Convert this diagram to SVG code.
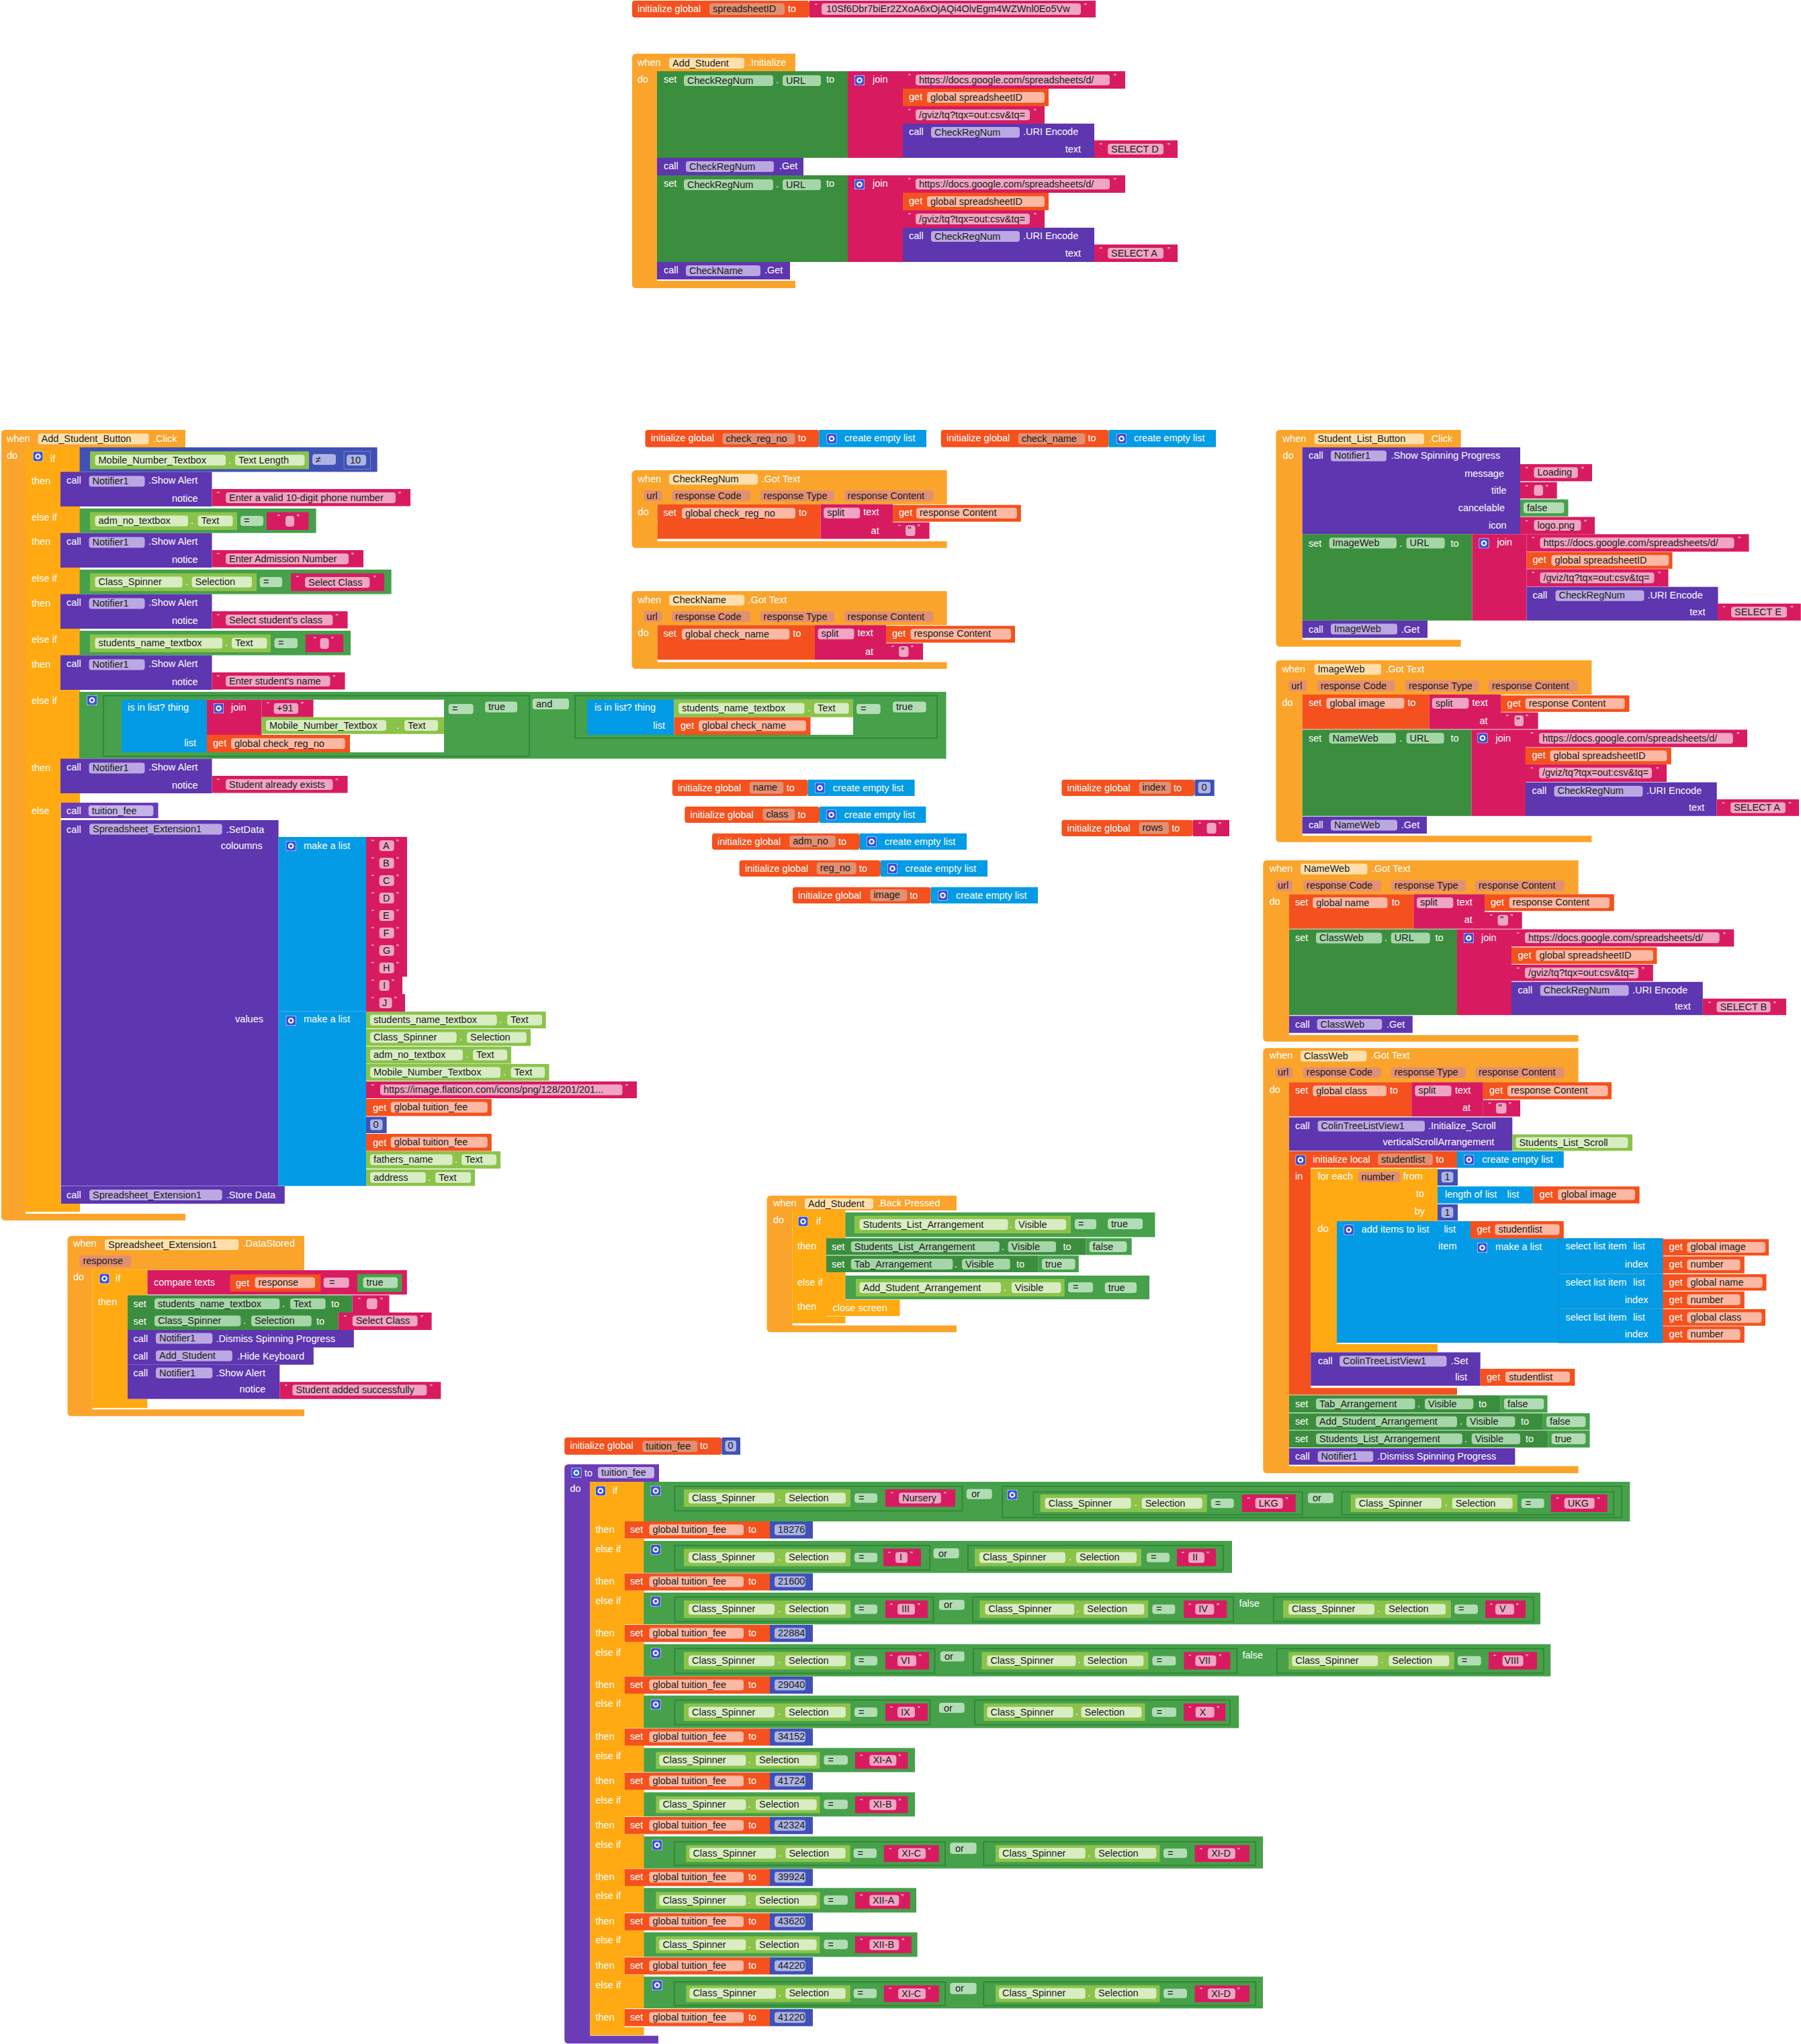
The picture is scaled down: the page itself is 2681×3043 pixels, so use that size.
<svg xmlns="http://www.w3.org/2000/svg" width="2681" height="3043" viewBox="0 0 2681 3043">
<defs>
<style>
text{font-family:"Liberation Sans",Arial,sans-serif;font-size:14.5px;fill:#fff}
.k{fill:#1a1a1a}
.e{text-anchor:end}
.q{font-size:11px}
.ev{fill:#FBA42C}.ct{fill:#FFAA12}.pu{fill:#5D36B0}.sg{fill:#3B8E3E}.lg{fill:#8BC34A}.lo{fill:#46A14A}.ls{fill:#46A14A;stroke:#2F7F33;stroke-width:1.5}
.tx{fill:#D81B60}.va{fill:#F4511E}.li{fill:#039BE5}.ma{fill:#3F51B5}.pr{fill:#6A3CB5}.wh{fill:#fff}
.fe,.fp,.fs,.fl,.fo,.ft,.fv,.fr,.fm,.fq{rx:4px}
.fe{fill:#FFE0AC}.fp{fill:#BBA8E2}.fs{fill:#A5D6A7}.fl{fill:#D8EDC2}.fo{fill:#B2DDB4}.ft{fill:#F2A5C3}.fv{fill:#FCB8A2}.fr{fill:#E29073}.fm{fill:#ADB4E3}.fq{fill:#C6B3E8}
</style>
<symbol id="g" viewBox="0 0 16 16"><rect width="16" height="16" rx="3" fill="#3D50D8" stroke="#fff" stroke-width="1"/><circle cx="8" cy="8" r="3.5" fill="none" stroke="#fff" stroke-width="2.2"/></symbol>
</defs>
<rect width="2681" height="3043" fill="#fff"/>
<g id="connectors"></g>

<g id="init-spreadsheetID">
<rect class="va" x="941" y="1" width="264" height="25" rx="4"/>
<text x="949" y="18">initialize global</text>
<rect class="fr" x="1056" y="5" width="112" height="17"/>
<text class="k" x="1061" y="18">spreadsheetID</text>
<text x="1173" y="18">to</text>
<rect class="tx" x="1205" y="1" width="426" height="25"/>
<text class="q" x="1213" y="13">“</text>
<rect class="ft" x="1223" y="5" width="386" height="17"/>
<text class="k" x="1230" y="18">10Sf6Dbr7biEr2ZXoA6xOjAQi4OlvEgm4WZWnl0Eo5Vw</text>
<text class="q" x="1614" y="13">”</text>
</g>

<g id="add-student-initialize">
<path class="ev" d="M941,86q0,-6 6,-6H1184V106H978V418H1184V429H947q-6,0 -6,-6Z"/>
<text x="949" y="98">when</text>
<rect class="fe" x="996" y="86" width="112" height="16"/>
<text class="k" x="1001" y="98.5">Add_Student</text>
<text x="1114" y="98">.Initialize</text>
<text x="949" y="123">do</text>
<rect class="sg" x="978" y="106" width="284" height="129"/>
<text x="988" y="123">set</text>
<rect class="fs" x="1018" y="112" width="133" height="16"/>
<text class="k" x="1023" y="124.5">CheckRegNum</text>
<text x="1155" y="124">.</text>
<rect class="fs" x="1165" y="112" width="57" height="16"/>
<text class="k" x="1170" y="124.5">URL</text>
<text x="1230" y="123">to</text>
<g transform="translate(1262,106)">
<rect class="tx" width="82" height="129"/>
<use href="#g" x="10" y="6" width="15" height="15"/>
<text x="37" y="17">join</text>
<rect class="tx" x="82" width="331" height="26"/>
<text class="q" x="90" y="12">“</text>
<rect class="ft" x="101" y="5" width="289" height="16"/>
<text class="k" x="106" y="17.5">https://docs.google.com/spreadsheets/d/</text>
<text class="q" x="396" y="12">”</text>
<rect class="va" x="82" y="26" width="217" height="26"/>
<text x="91" y="43">get</text>
<rect class="fv" x="118" y="31" width="175" height="16"/>
<text class="k" x="123" y="43.5">global spreadsheetID</text>
<rect class="tx" x="82" y="52" width="211" height="26"/>
<text class="q" x="90" y="64">“</text>
<rect class="ft" x="101" y="57" width="170" height="16"/>
<text class="k" x="106" y="69.5">/gviz/tq?tqx=out:csv&amp;tq=</text>
<text class="q" x="277" y="64">”</text>
<rect class="pu" x="82" y="78" width="285" height="51"/>
<text x="91" y="95">call</text>
<rect class="fp" x="124" y="83" width="132" height="16"/>
<text class="k" x="129" y="95.5">CheckRegNum</text>
<text x="261" y="95">.URI Encode</text>
<text class="e" x="347" y="121">text</text>
<rect class="tx" x="367" y="103" width="124" height="26"/>
<text class="q" x="375" y="115">“</text>
<rect class="ft" x="387" y="108" width="83" height="16"/>
<text class="k" x="392" y="120.5">SELECT D</text>
<text class="q" x="476" y="115">”</text>
</g>
<rect class="pu" x="978" y="235" width="218" height="26"/>
<text x="988" y="252">call</text>
<rect class="fp" x="1021" y="240" width="131" height="16"/>
<text class="k" x="1026" y="252.5">CheckRegNum</text>
<text x="1160" y="252">.Get</text>
<rect class="sg" x="978" y="261" width="284" height="129"/>
<text x="988" y="278">set</text>
<rect class="fs" x="1018" y="267" width="133" height="16"/>
<text class="k" x="1023" y="279.5">CheckRegNum</text>
<text x="1155" y="279">.</text>
<rect class="fs" x="1165" y="267" width="57" height="16"/>
<text class="k" x="1170" y="279.5">URL</text>
<text x="1230" y="278">to</text>
<g transform="translate(1262,261)">
<rect class="tx" width="82" height="129"/>
<use href="#g" x="10" y="6" width="15" height="15"/>
<text x="37" y="17">join</text>
<rect class="tx" x="82" width="331" height="26"/>
<text class="q" x="90" y="12">“</text>
<rect class="ft" x="101" y="5" width="289" height="16"/>
<text class="k" x="106" y="17.5">https://docs.google.com/spreadsheets/d/</text>
<text class="q" x="396" y="12">”</text>
<rect class="va" x="82" y="26" width="217" height="26"/>
<text x="91" y="43">get</text>
<rect class="fv" x="118" y="31" width="175" height="16"/>
<text class="k" x="123" y="43.5">global spreadsheetID</text>
<rect class="tx" x="82" y="52" width="211" height="26"/>
<text class="q" x="90" y="64">“</text>
<rect class="ft" x="101" y="57" width="170" height="16"/>
<text class="k" x="106" y="69.5">/gviz/tq?tqx=out:csv&amp;tq=</text>
<text class="q" x="277" y="64">”</text>
<rect class="pu" x="82" y="78" width="285" height="51"/>
<text x="91" y="95">call</text>
<rect class="fp" x="124" y="83" width="132" height="16"/>
<text class="k" x="129" y="95.5">CheckRegNum</text>
<text x="261" y="95">.URI Encode</text>
<text class="e" x="347" y="121">text</text>
<rect class="tx" x="367" y="103" width="124" height="26"/>
<text class="q" x="375" y="115">“</text>
<rect class="ft" x="387" y="108" width="83" height="16"/>
<text class="k" x="392" y="120.5">SELECT A</text>
<text class="q" x="476" y="115">”</text>
</g>
<rect class="pu" x="978" y="390" width="198" height="26"/>
<text x="988" y="407">call</text>
<rect class="fp" x="1021" y="395" width="111" height="16"/>
<text class="k" x="1026" y="407.5">CheckName</text>
<text x="1138" y="407">.Get</text>
</g>

<g id="add-student-button-click">
<path class="ev" d="M2,646q0,-6 6,-6H276V666H38V1807H276V1817H8q-6,0 -6,-6Z"/>
<text x="10" y="658">when</text>
<rect class="fe" x="56.5" y="645.5" width="165" height="16"/>
<text class="k" x="61.5" y="658">Add_Student_Button</text>
<text x="228" y="658">.Click</text>
<text x="10" y="683">do</text>
<rect class="ct" x="38" y="666" width="52" height="1138"/>
<rect class="ct" x="90" y="666" width="29" height="37"/>
<rect class="ct" x="90" y="754" width="29" height="40"/>
<rect class="ct" x="90" y="845" width="29" height="40"/>
<rect class="ct" x="90" y="936" width="29" height="40"/>
<rect class="ct" x="90" y="1027" width="29" height="103"/>
<rect class="ct" x="90" y="1181" width="29" height="14"/>
<rect class="ct" x="38" y="1792" width="81" height="12"/>
<use href="#g" x="49" y="672" width="15" height="15"/>
<text x="75" y="688">if</text>
<text x="47" y="721">then</text>
<text x="47" y="775">else if</text>
<text x="47" y="811">then</text>
<text x="47" y="866">else if</text>
<text x="47" y="903">then</text>
<text x="47" y="957">else if</text>
<text x="47" y="994">then</text>
<text x="47" y="1048">else if</text>
<text x="47" y="1148">then</text>
<text x="47" y="1212">else</text>
<rect class="ma" x="118.6" y="666" width="443" height="36.5"/>
<rect class="lg" x="134" y="672" width="326" height="26.5"/>
<rect class="fl" x="141.5" y="677" width="194.5" height="16"/>
<text class="k" x="146.5" y="689.5">Mobile_Number_Textbox</text>
<text x="340" y="690">.</text>
<rect class="fl" x="350" y="677" width="103.5" height="16"/>
<text class="k" x="355" y="689.5">Text Length</text>
<rect class="fm" x="465" y="676" width="35" height="16"/>
<text class="k" x="470" y="689">≠</text>
<rect class="ma" x="512" y="672" width="39.6" height="26.5" stroke="#7986CB"/>
<rect class="fm" x="516" y="677" width="29" height="16"/>
<text class="k" x="521" y="689.5">10</text>
<rect class="lo" x="118.6" y="757" width="352" height="36.5"/>
<rect class="lg" x="134" y="762.5" width="219" height="26.5"/>
<rect class="fl" x="141.5" y="767.5" width="138.5" height="16"/>
<text class="k" x="146.5" y="780">adm_no_textbox</text>
<text x="284" y="780">.</text>
<rect class="fl" x="294.6" y="767.5" width="52" height="16"/>
<text class="k" x="299.6" y="780">Text</text>
<rect class="fo" x="358" y="768" width="34" height="15"/>
<text class="k" x="363" y="780">=</text>
<rect class="tx" x="397" y="762.5" width="62.5" height="26.5"/>
<text class="q" x="413" y="774">“</text>
<rect class="ft" x="425" y="768" width="13" height="16"/>
<text class="q" x="442" y="774">”</text>
<rect class="lo" x="118.6" y="848" width="464" height="36.5"/>
<rect class="lg" x="134" y="853.5" width="248" height="26.5"/>
<rect class="fl" x="141.5" y="858.5" width="130" height="16"/>
<text class="k" x="146.5" y="871">Class_Spinner</text>
<text x="276" y="871">.</text>
<rect class="fl" x="285.5" y="858.5" width="89.5" height="16"/>
<text class="k" x="290.5" y="871">Selection</text>
<rect class="fo" x="386.7" y="859" width="33.5" height="15"/>
<text class="k" x="392" y="871">=</text>
<rect class="tx" x="433" y="853.5" width="139" height="26.5"/>
<text class="q" x="441" y="865">“</text>
<rect class="ft" x="454" y="859" width="96.4" height="16"/>
<text class="k" x="459" y="871.5">Select Class</text>
<text class="q" x="556" y="865">”</text>
<rect class="lo" x="118.6" y="939" width="403.4" height="36.5"/>
<rect class="lg" x="134" y="944.5" width="269" height="26.5"/>
<rect class="fl" x="141.5" y="949.5" width="189.5" height="16"/>
<text class="k" x="146.5" y="962">students_name_textbox</text>
<text x="335" y="962">.</text>
<rect class="fl" x="345" y="949.5" width="52.4" height="16"/>
<text class="k" x="350" y="962">Text</text>
<rect class="fo" x="408.5" y="950" width="34.5" height="15"/>
<text class="k" x="414" y="962">=</text>
<rect class="tx" x="454.7" y="944.5" width="56.3" height="26.5"/>
<text class="q" x="467" y="956">“</text>
<rect class="ft" x="476.5" y="950" width="13" height="16"/>
<text class="q" x="493" y="956">”</text>
<rect class="lo" x="118" y="1030" width="1290.5" height="99.5"/>
<use href="#g" x="129.5" y="1035" width="15" height="15"/>
<rect class="ls" x="154" y="1035.7" width="634" height="90.3"/>
<rect class="li" x="181" y="1041.7" width="127" height="78.3"/>
<text x="190" y="1058">is in list? thing</text>
<text class="e" x="292" y="1111">list</text>
<rect class="wh" x="308" y="1041.7" width="353" height="78.3"/>
<rect class="tx" x="308" y="1041.7" width="81.5" height="52.3"/>
<use href="#g" x="318" y="1047" width="15" height="15"/>
<text x="344" y="1058">join</text>
<rect class="tx" x="389.5" y="1041.7" width="77" height="26"/>
<text class="q" x="397" y="1053">“</text>
<rect class="ft" x="407.6" y="1046.7" width="36.4" height="16"/>
<text class="k" x="412" y="1059">+91</text>
<text class="q" x="448" y="1053">”</text>
<rect class="lg" x="389.5" y="1067.7" width="271.5" height="25"/>
<rect class="fl" x="396" y="1072" width="179" height="16"/>
<text class="k" x="401" y="1084.5">Mobile_Number_Textbox</text>
<text x="590" y="1084.5">.</text>
<rect class="fl" x="602" y="1072" width="50" height="16"/>
<text class="k" x="607" y="1084.5">Text</text>
<rect class="va" x="308" y="1094" width="213" height="26"/>
<text x="317" y="1111">get</text>
<rect class="fv" x="344" y="1099" width="169.6" height="16"/>
<text class="k" x="349" y="1111.5">global check_reg_no</text>
<rect class="fo" x="667.6" y="1048" width="37" height="15"/>
<text class="k" x="673" y="1060">=</text>
<rect class="lo" x="713.8" y="1041.7" width="63" height="21.5"/>
<rect class="fo" x="722" y="1044.5" width="48" height="16"/>
<text class="k" x="727" y="1057">true</text>
<rect class="fo" x="792.6" y="1040" width="54.4" height="16"/>
<text class="k" x="798" y="1052.5">and</text>
<rect class="ls" x="856" y="1035.7" width="539" height="63.3"/>
<rect class="li" x="874" y="1041.7" width="129.6" height="52.3"/>
<text x="885" y="1058">is in list? thing</text>
<text class="e" x="990" y="1085">list</text>
<rect class="wh" x="1003.6" y="1041.7" width="266.4" height="52.3"/>
<rect class="lg" x="1003.6" y="1041.7" width="266.4" height="26"/>
<rect class="fl" x="1010" y="1046.5" width="187.5" height="16"/>
<text class="k" x="1015" y="1059">students_name_textbox</text>
<text x="1202" y="1059">.</text>
<rect class="fl" x="1212" y="1046.5" width="51.6" height="16"/>
<text class="k" x="1217" y="1059">Text</text>
<rect class="va" x="1003.6" y="1067.7" width="203" height="26.3"/>
<text x="1013" y="1085">get</text>
<rect class="fv" x="1040" y="1072.5" width="160" height="16"/>
<text class="k" x="1045" y="1085">global check_name</text>
<rect class="fo" x="1275" y="1048" width="35.7" height="15"/>
<text class="k" x="1281" y="1060">=</text>
<rect class="lo" x="1320.7" y="1041.7" width="65.3" height="21.5"/>
<rect class="fo" x="1329" y="1044.5" width="49.6" height="16"/>
<text class="k" x="1334" y="1057">true</text>
<g transform="translate(90,702.5)">
<rect class="pu" width="225.5" height="51.5"/>
<text x="9" y="17.5">call</text>
<rect class="fp" x="42.5" y="6" width="83" height="16"/>
<text class="k" x="47.5" y="18.5">Notifier1</text>
<text x="131" y="17.5">.Show Alert</text>
<text class="e" x="204.6" y="44">notice</text>
<rect class="tx" x="225.5" y="25.5" width="295.5" height="25.5"/>
<text class="q" x="233" y="37.5">“</text>
<rect class="ft" x="246" y="30.5" width="253" height="16"/>
<text class="k" x="251" y="43">Enter a valid 10-digit phone number</text>
<text class="q" x="503" y="37.5">”</text>
</g>
<g transform="translate(90,793.5)">
<rect class="pu" width="225.5" height="51.5"/>
<text x="9" y="17.5">call</text>
<rect class="fp" x="42.5" y="6" width="83" height="16"/>
<text class="k" x="47.5" y="18.5">Notifier1</text>
<text x="131" y="17.5">.Show Alert</text>
<text class="e" x="204.6" y="44">notice</text>
<rect class="tx" x="225.5" y="25.5" width="225.5" height="25.5"/>
<text class="q" x="233" y="37.5">“</text>
<rect class="ft" x="246" y="30.5" width="183" height="16"/>
<text class="k" x="251" y="43">Enter Admission Number</text>
<text class="q" x="433" y="37.5">”</text>
</g>
<g transform="translate(90,884.5)">
<rect class="pu" width="225.5" height="51.5"/>
<text x="9" y="17.5">call</text>
<rect class="fp" x="42.5" y="6" width="83" height="16"/>
<text class="k" x="47.5" y="18.5">Notifier1</text>
<text x="131" y="17.5">.Show Alert</text>
<text class="e" x="204.6" y="44">notice</text>
<rect class="tx" x="225.5" y="25.5" width="202" height="25.5"/>
<text class="q" x="233" y="37.5">“</text>
<rect class="ft" x="246" y="30.5" width="159.4" height="16"/>
<text class="k" x="251" y="43">Select student's class</text>
<text class="q" x="409.4" y="37.5">”</text>
</g>
<g transform="translate(90,975.5)">
<rect class="pu" width="225.5" height="51.5"/>
<text x="9" y="17.5">call</text>
<rect class="fp" x="42.5" y="6" width="83" height="16"/>
<text class="k" x="47.5" y="18.5">Notifier1</text>
<text x="131" y="17.5">.Show Alert</text>
<text class="e" x="204.6" y="44">notice</text>
<rect class="tx" x="225.5" y="25.5" width="198" height="25.5"/>
<text class="q" x="233" y="37.5">“</text>
<rect class="ft" x="246" y="30.5" width="155.5" height="16"/>
<text class="k" x="251" y="43">Enter student's name</text>
<text class="q" x="405.5" y="37.5">”</text>
</g>
<g transform="translate(90,1129.5)">
<rect class="pu" width="225.5" height="51.5"/>
<text x="9" y="17.5">call</text>
<rect class="fp" x="42.5" y="6" width="83" height="16"/>
<text class="k" x="47.5" y="18.5">Notifier1</text>
<text x="131" y="17.5">.Show Alert</text>
<text class="e" x="204.6" y="44">notice</text>
<rect class="tx" x="225.5" y="25.5" width="202" height="25.5"/>
<text class="q" x="233" y="37.5">“</text>
<rect class="ft" x="246" y="30.5" width="159.4" height="16"/>
<text class="k" x="251" y="43">Student already exists</text>
<text class="q" x="409.4" y="37.5">”</text>
</g>
<rect class="pr" x="90.5" y="1195" width="145" height="23"/>
<text x="99" y="1212">call</text>
<rect class="fq" x="131.7" y="1199" width="96.7" height="16"/>
<text class="k" x="136.7" y="1211.5">tuition_fee</text>
<rect class="pu" x="90.6" y="1221" width="324" height="544.6"/>
<text x="99" y="1239.5">call</text>
<rect class="fp" x="133" y="1226.5" width="197.7" height="16"/>
<text class="k" x="138" y="1239">Spreadsheet_Extension1</text>
<text x="336.8" y="1239.5">.SetData</text>
<text class="e" x="390.7" y="1264">coloumns</text>
<text class="e" x="392" y="1522">values</text>
<rect class="li" x="414.6" y="1246" width="130.4" height="259.6"/>
<use href="#g" x="425.6" y="1252" width="15" height="15"/>
<text x="452" y="1264">make a list</text>
<g transform="translate(545,1246)"><rect class="tx" width="61" height="26"/><text class="q" x="8" y="12">“</text><rect class="ft" x="19.6" y="5" width="22" height="16"/><text class="k" x="25" y="17.5">A</text><text class="q" x="45" y="12">”</text></g>
<g transform="translate(545,1272)"><rect class="tx" width="61" height="26"/><text class="q" x="8" y="12">“</text><rect class="ft" x="19.6" y="5" width="22" height="16"/><text class="k" x="25" y="17.5">B</text><text class="q" x="45" y="12">”</text></g>
<g transform="translate(545,1298)"><rect class="tx" width="61" height="26"/><text class="q" x="8" y="12">“</text><rect class="ft" x="19.6" y="5" width="22" height="16"/><text class="k" x="25" y="17.5">C</text><text class="q" x="45" y="12">”</text></g>
<g transform="translate(545,1324)"><rect class="tx" width="61" height="26"/><text class="q" x="8" y="12">“</text><rect class="ft" x="19.6" y="5" width="22" height="16"/><text class="k" x="25" y="17.5">D</text><text class="q" x="45" y="12">”</text></g>
<g transform="translate(545,1350)"><rect class="tx" width="61" height="26"/><text class="q" x="8" y="12">“</text><rect class="ft" x="19.6" y="5" width="22" height="16"/><text class="k" x="25" y="17.5">E</text><text class="q" x="45" y="12">”</text></g>
<g transform="translate(545,1376)"><rect class="tx" width="61" height="26"/><text class="q" x="8" y="12">“</text><rect class="ft" x="19.6" y="5" width="22" height="16"/><text class="k" x="25.5" y="17.5">F</text><text class="q" x="45" y="12">”</text></g>
<g transform="translate(545,1402)"><rect class="tx" width="61" height="26"/><text class="q" x="8" y="12">“</text><rect class="ft" x="19.6" y="5" width="22" height="16"/><text class="k" x="25" y="17.5">G</text><text class="q" x="45" y="12">”</text></g>
<g transform="translate(545,1428)"><rect class="tx" width="61" height="26"/><text class="q" x="8" y="12">“</text><rect class="ft" x="19.6" y="5" width="22" height="16"/><text class="k" x="25" y="17.5">H</text><text class="q" x="45" y="12">”</text></g>
<g transform="translate(545,1454)"><rect class="tx" width="54" height="26"/><text class="q" x="8" y="12">“</text><rect class="ft" x="19.6" y="5" width="15" height="16"/><text class="k" x="25" y="17.5">I</text><text class="q" x="38" y="12">”</text></g>
<g transform="translate(545,1480)"><rect class="tx" width="58" height="26"/><text class="q" x="8" y="12">“</text><rect class="ft" x="19.6" y="5" width="19" height="16"/><text class="k" x="24" y="17.5">J</text><text class="q" x="42" y="12">”</text></g>
<rect class="li" x="414.6" y="1505.6" width="130.4" height="260"/>
<use href="#g" x="425.6" y="1512" width="15" height="15"/>
<text x="452" y="1522">make a list</text>
<rect class="lg" x="545" y="1506" width="267.6" height="25"/>
<rect class="fl" x="551" y="1510.5" width="188.7" height="16"/>
<text class="k" x="556" y="1523">students_name_textbox</text>
<text x="743" y="1523">.</text>
<rect class="fl" x="755" y="1510.5" width="52" height="16"/>
<text class="k" x="760" y="1523">Text</text>
<rect class="lg" x="545" y="1532" width="245" height="25"/>
<rect class="fl" x="551" y="1536.5" width="128.7" height="16"/>
<text class="k" x="556" y="1549">Class_Spinner</text>
<text x="684" y="1549">.</text>
<rect class="fl" x="695" y="1536.5" width="88.8" height="16"/>
<text class="k" x="700" y="1549">Selection</text>
<rect class="lg" x="545" y="1558" width="216" height="25.5"/>
<rect class="fl" x="551" y="1562.5" width="138" height="16"/>
<text class="k" x="556" y="1575">adm_no_textbox</text>
<text x="693" y="1575">.</text>
<rect class="fl" x="704" y="1562.5" width="51" height="16"/>
<text class="k" x="709" y="1575">Text</text>
<rect class="lg" x="545" y="1584" width="272.5" height="25"/>
<rect class="fl" x="551" y="1588.5" width="194" height="16"/>
<text class="k" x="556" y="1601">Mobile_Number_Textbox</text>
<text x="749" y="1601">.</text>
<rect class="fl" x="760.6" y="1588.5" width="50.4" height="16"/>
<text class="k" x="765.6" y="1601">Text</text>
<rect class="tx" x="545" y="1610" width="403" height="25"/>
<text class="q" x="553" y="1622">“</text>
<rect class="ft" x="566" y="1614.5" width="360.5" height="16"/>
<text class="k" x="571" y="1627">https://image.flaticon.com/icons/png/128/201/201...</text>
<text class="q" x="931" y="1622">”</text>
<rect class="va" x="545" y="1636" width="186.8" height="25.5"/>
<text x="555" y="1653.5">get</text>
<rect class="fv" x="581.7" y="1640.5" width="144" height="16"/>
<text class="k" x="586.7" y="1653">global tuition_fee</text>
<rect class="ma" x="545" y="1662.6" width="30.6" height="24.4"/>
<rect class="fm" x="551" y="1666.5" width="18.5" height="16"/>
<text class="k" x="555.5" y="1679">0</text>
<rect class="va" x="545" y="1688" width="186.8" height="25.5"/>
<text x="555" y="1705.5">get</text>
<rect class="fv" x="581.7" y="1692.5" width="144" height="16"/>
<text class="k" x="586.7" y="1705">global tuition_fee</text>
<rect class="lg" x="545" y="1714" width="200" height="25.7"/>
<rect class="fl" x="551" y="1718.5" width="122.6" height="16"/>
<text class="k" x="556" y="1731">fathers_name</text>
<text x="677" y="1731">.</text>
<rect class="fl" x="687" y="1718.5" width="52" height="16"/>
<text class="k" x="692" y="1731">Text</text>
<rect class="lg" x="545" y="1741" width="162" height="24.6"/>
<rect class="fl" x="551" y="1745" width="82.8" height="16"/>
<text class="k" x="556" y="1757.5">address</text>
<text x="637" y="1757.5">.</text>
<rect class="fl" x="648" y="1745" width="53" height="16"/>
<text class="k" x="653" y="1757.5">Text</text>
<rect class="pu" x="90.6" y="1766" width="333.2" height="26"/>
<text x="99" y="1783.5">call</text>
<rect class="fp" x="133" y="1771" width="197.7" height="16"/>
<text class="k" x="138" y="1783.5">Spreadsheet_Extension1</text>
<text x="336.8" y="1783.5">.Store Data</text>
</g>

<g id="init-check-lists">
<rect class="va" x="960.5" y="640" width="259" height="25.7" rx="4"/>
<text x="969" y="657">initialize global</text>
<rect class="fr" x="1075.5" y="645" width="108" height="16.5"/>
<text class="k" x="1080.5" y="657.5">check_reg_no</text>
<text x="1188" y="657">to</text>
<rect class="li" x="1219.3" y="640" width="159.7" height="25.7"/>
<use href="#g" x="1230.5" y="645.5" width="15" height="15"/>
<text x="1257" y="657">create empty list</text>
<rect class="va" x="1400.7" y="640" width="250" height="25.7" rx="4"/>
<text x="1409" y="657">initialize global</text>
<rect class="fr" x="1515.7" y="645" width="99.7" height="16.5"/>
<text class="k" x="1520.7" y="657.5">check_name</text>
<text x="1619.5" y="657">to</text>
<rect class="li" x="1650.6" y="640" width="159.4" height="25.7"/>
<use href="#g" x="1662" y="645.5" width="15" height="15"/>
<text x="1688" y="657">create empty list</text>
</g>

<g id="checkregnum-gottext">
<path class="ev" d="M940.6,706q0,-6 6,-6H1409.6V750.7H978.7V805.7H1409.6V815.7H946.6q-6,0 -6,-6Z"/>
<g transform="translate(940.6,700)">
<text x="9" y="17.5">when</text>
<rect class="fe" x="55.6" y="5.5" width="132" height="16"/>
<text class="k" x="60.6" y="18">CheckRegNum</text>
<text x="193" y="17.5">.Got Text</text>
<rect class="fr" x="18" y="30" width="27" height="16"/><text class="k" x="22" y="42.5">url</text>
<rect class="fr" x="59.5" y="30" width="117" height="16"/><text class="k" x="64.5" y="42.5">response Code</text>
<rect class="fr" x="191" y="30" width="110.5" height="16"/><text class="k" x="196" y="42.5">response Type</text>
<rect class="fr" x="316" y="30" width="133" height="16"/><text class="k" x="321" y="42.5">response Content</text>
<text x="9" y="67">do</text>
</g>
<rect class="va" x="978.7" y="750.7" width="243" height="51.5"/>
<text x="987.5" y="767.5">set</text>
<rect class="fv" x="1015" y="756" width="169" height="16"/>
<text class="k" x="1020" y="768.5">global check_reg_no</text>
<text x="1189" y="767.5">to</text>
<g transform="translate(1221.7,750.7)">
<rect class="tx" width="107.3" height="51.5"/>
<rect class="ft" x="4.5" y="5" width="54" height="16"/>
<text class="k" x="9.5" y="17.8">split</text>
<text x="63.5" y="16.8">text</text>
<text class="e" x="87" y="44.3">at</text>
<rect class="va" x="107.3" y="1" width="190.8" height="25"/>
<text x="116.3" y="17.8">get</text>
<rect class="fv" x="142.3" y="5.3" width="150" height="16"/>
<text class="k" x="147.3" y="17.8">response Content</text>
<rect class="tx" x="107.3" y="27" width="54.6" height="24.5"/>
<text class="q" x="115.3" y="38.3">“</text>
<rect class="ft" x="126.3" y="31.3" width="14.5" height="16"/>
<text class="k" x="129.5" y="43.8">"</text>
<text class="q" x="144.3" y="38.3">”</text>
</g>
</g>

<g id="checkname-gottext">
<path class="ev" d="M940.6,886q0,-6 6,-6H1409.6V930.7H978.7V985.7H1409.6V995.7H946.6q-6,0 -6,-6Z"/>
<g transform="translate(940.6,880)">
<text x="9" y="17.5">when</text>
<rect class="fe" x="55.6" y="5.5" width="112" height="16"/>
<text class="k" x="60.6" y="18">CheckName</text>
<text x="173" y="17.5">.Got Text</text>
<rect class="fr" x="18" y="30" width="27" height="16"/><text class="k" x="22" y="42.5">url</text>
<rect class="fr" x="59.5" y="30" width="117" height="16"/><text class="k" x="64.5" y="42.5">response Code</text>
<rect class="fr" x="191" y="30" width="110.5" height="16"/><text class="k" x="196" y="42.5">response Type</text>
<rect class="fr" x="316" y="30" width="133" height="16"/><text class="k" x="321" y="42.5">response Content</text>
<text x="9" y="67">do</text>
</g>
<rect class="va" x="978.7" y="930.7" width="234.3" height="51.5"/>
<text x="987.5" y="947.5">set</text>
<rect class="fv" x="1015" y="936" width="160.3" height="16"/>
<text class="k" x="1020" y="948.5">global check_name</text>
<text x="1180.6" y="947.5">to</text>
<g transform="translate(1213,930.7)">
<rect class="tx" width="106" height="51.5"/>
<rect class="ft" x="4.5" y="5" width="54" height="16"/>
<text class="k" x="9.5" y="17.8">split</text>
<text x="63.5" y="16.8">text</text>
<text class="e" x="87" y="44.3">at</text>
<rect class="va" x="106" y="1" width="192" height="25"/>
<text x="115" y="17.8">get</text>
<rect class="fv" x="142.5" y="5.3" width="149.5" height="16"/>
<text class="k" x="147.5" y="17.8">response Content</text>
<rect class="tx" x="106" y="27" width="55" height="24.5"/>
<text class="q" x="114" y="38.3">“</text>
<rect class="ft" x="125" y="31.3" width="14.5" height="16"/>
<text class="k" x="128.2" y="43.8">"</text>
<text class="q" x="143" y="38.3">”</text>
</g>
</g>

<g id="init-globals-lists">
<rect class="va" x="1000.8" y="1160.7" width="202" height="24.3" rx="4"/>
<text x="1009" y="1177.5">initialize global</text>
<rect class="fr" x="1115.8" y="1164" width="50.5" height="17.5"/>
<text class="k" x="1120.8" y="1177">name</text>
<text x="1170.8" y="1177.5">to</text>
<rect class="li" x="1202.8" y="1160.7" width="158.8" height="24.3"/>
<use href="#g" x="1213" y="1165.5" width="15" height="15"/>
<text x="1239.8" y="1177.5">create empty list</text>
<rect class="va" x="1019.3" y="1200.7" width="200.7" height="24.3" rx="4"/>
<text x="1027.5" y="1217.5">initialize global</text>
<rect class="fr" x="1135.4" y="1204" width="47.6" height="17.5"/>
<text class="k" x="1140.4" y="1217">class</text>
<text x="1187.6" y="1217.5">to</text>
<rect class="li" x="1220" y="1200.7" width="158.4" height="24.3"/>
<use href="#g" x="1230" y="1205.5" width="15" height="15"/>
<text x="1256.7" y="1217.5">create empty list</text>
<rect class="va" x="1060" y="1240.7" width="220" height="24.3" rx="4"/>
<text x="1068" y="1257.5">initialize global</text>
<rect class="fr" x="1175.3" y="1244" width="68.4" height="17.5"/>
<text class="k" x="1180.3" y="1257">adm_no</text>
<text x="1248" y="1257.5">to</text>
<rect class="li" x="1280" y="1240.7" width="159" height="24.3"/>
<use href="#g" x="1290" y="1245.5" width="15" height="15"/>
<text x="1316.7" y="1257.5">create empty list</text>
<rect class="va" x="1100.6" y="1280.7" width="210.4" height="24.3" rx="4"/>
<text x="1109" y="1297.5">initialize global</text>
<rect class="fr" x="1215.7" y="1284" width="59" height="17.5"/>
<text class="k" x="1220.7" y="1297">reg_no</text>
<text x="1279" y="1297.5">to</text>
<rect class="li" x="1311" y="1280.7" width="159" height="24.3"/>
<use href="#g" x="1321" y="1285.5" width="15" height="15"/>
<text x="1347.6" y="1297.5">create empty list</text>
<rect class="va" x="1180" y="1320.7" width="205.7" height="24.3" rx="4"/>
<text x="1188" y="1337.5">initialize global</text>
<rect class="fr" x="1295.4" y="1324" width="55" height="17.5"/>
<text class="k" x="1300.4" y="1337">image</text>
<text x="1354.3" y="1337.5">to</text>
<rect class="li" x="1385.7" y="1320.7" width="159.3" height="24.3"/>
<use href="#g" x="1396" y="1325.5" width="15" height="15"/>
<text x="1423" y="1337.5">create empty list</text>
</g>

<g id="init-index-rows">
<rect class="va" x="1580.4" y="1160.7" width="198.1" height="24.3" rx="4"/>
<text x="1588.5" y="1177.5">initialize global</text>
<rect class="fr" x="1695.5" y="1164" width="47.5" height="17.5"/>
<text class="k" x="1700.5" y="1177">index</text>
<text x="1747" y="1177.5">to</text>
<rect class="ma" x="1778.5" y="1160.7" width="29.2" height="24.3"/>
<rect class="fm" x="1783.6" y="1164" width="18.4" height="17"/>
<text class="k" x="1788.5" y="1177">0</text>
<rect class="va" x="1580.4" y="1220.7" width="195.3" height="24.3" rx="4"/>
<text x="1588.5" y="1237.5">initialize global</text>
<rect class="fr" x="1695.5" y="1224" width="44.5" height="17.5"/>
<text class="k" x="1700.5" y="1237">rows</text>
<text x="1744.3" y="1237.5">to</text>
<rect class="tx" x="1775.7" y="1220.7" width="54.3" height="24.3"/>
<text class="q" x="1784" y="1232">“</text>
<rect class="ft" x="1796.5" y="1225" width="14" height="16"/>
<text class="q" x="1814" y="1232">”</text>
</g>

<g id="student-list-button-click">
<path class="ev" d="M1899.4,646q0,-6 6,-6H2174.7V666H1938.7V952.4H2174.7V962.7H1905.4q-6,0 -6,-6Z"/>
<text x="1909.6" y="658">when</text>
<rect class="fe" x="1956.6" y="645.5" width="163.4" height="16"/>
<text class="k" x="1961.6" y="658">Student_List_Button</text>
<text x="2126.7" y="658">.Click</text>
<text x="1909.6" y="683">do</text>
<rect class="pu" x="1938.7" y="666" width="324.3" height="129.3"/>
<text x="1948" y="683">call</text>
<rect class="fp" x="1981" y="670.8" width="83" height="16"/>
<text class="k" x="1986" y="683.3">Notifier1</text>
<text x="2070.5" y="683">.Show Spinning Progress</text>
<text class="e" x="2239" y="709.6">message</text>
<text class="e" x="2242.6" y="735.3">title</text>
<text class="e" x="2240" y="761.4">cancelable</text>
<text class="e" x="2242.6" y="787">icon</text>
<rect class="tx" x="2263" y="691" width="107" height="25.5"/>
<text class="q" x="2271" y="703">“</text>
<rect class="ft" x="2283.5" y="695.5" width="65.5" height="16"/>
<text class="k" x="2288.5" y="708">Loading</text>
<text class="q" x="2354" y="703">”</text>
<rect class="tx" x="2263" y="717.8" width="54.7" height="24.4"/>
<text class="q" x="2271" y="729.5">“</text>
<rect class="ft" x="2283.5" y="722" width="13.5" height="16"/>
<text class="q" x="2301" y="729.5">”</text>
<rect class="lo" x="2263" y="743.5" width="71.5" height="25.3"/>
<rect class="fo" x="2268" y="748" width="60.4" height="16"/>
<text class="k" x="2273" y="760.5">false</text>
<rect class="tx" x="2263" y="769.6" width="111" height="25.7"/>
<text class="q" x="2271" y="781.5">“</text>
<rect class="ft" x="2283.5" y="774" width="70" height="16"/>
<text class="k" x="2288.5" y="786.5">logo.png</text>
<text class="q" x="2358" y="781.5">”</text>
<rect class="sg" x="1938.7" y="795.3" width="252.8" height="128.5"/>
<text x="1948" y="813.7">set</text>
<rect class="fs" x="1978.6" y="800.6" width="100.4" height="16"/>
<text class="k" x="1983.6" y="813">ImageWeb</text>
<text x="2083" y="813.5">.</text>
<rect class="fs" x="2093.5" y="800.6" width="57.2" height="16"/>
<text class="k" x="2098.5" y="813">URL</text>
<text x="2159.4" y="813.7">to</text>
<g transform="translate(2191.5,795.3)">
<rect class="tx" width="81" height="128.5"/>
<use href="#g" x="10" y="6" width="15" height="15"/>
<text x="37" y="17">join</text>
<rect class="tx" x="81" width="331" height="26"/>
<text class="q" x="89" y="12">“</text>
<rect class="ft" x="101" y="5" width="289" height="16"/>
<text class="k" x="106" y="17.5">https://docs.google.com/spreadsheets/d/</text>
<text class="q" x="396" y="12">”</text>
<rect class="va" x="81" y="26.5" width="217" height="25"/>
<text x="90" y="43">get</text>
<rect class="fv" x="118" y="31" width="175" height="16"/>
<text class="k" x="123" y="43.5">global spreadsheetID</text>
<rect class="tx" x="81" y="52" width="211" height="26"/>
<text class="q" x="89" y="64">“</text>
<rect class="ft" x="101" y="57" width="170" height="16"/>
<text class="k" x="106" y="69.5">/gviz/tq?tqx=out:csv&amp;tq=</text>
<text class="q" x="277" y="64">”</text>
<rect class="pu" x="81" y="78.4" width="285" height="50.1"/>
<text x="90" y="95.5">call</text>
<rect class="fp" x="124" y="83.5" width="132" height="16"/>
<text class="k" x="129" y="96">CheckRegNum</text>
<text x="261" y="95.5">.URI Encode</text>
<text class="e" x="347" y="120.5">text</text>
<rect class="tx" x="365.2" y="103.3" width="124" height="25.2"/>
<text class="q" x="373" y="115">“</text>
<rect class="ft" x="385.5" y="108" width="83" height="16"/>
<text class="k" x="390.5" y="120.5">SELECT E</text>
<text class="q" x="474" y="115">”</text>
</g>
<rect class="pu" x="1938.7" y="923.9" width="186.3" height="25.7"/>
<text x="1948" y="941.5">call</text>
<rect class="fp" x="1981" y="928.5" width="99" height="16"/>
<text class="k" x="1986" y="941">ImageWeb</text>
<text x="2085.8" y="941.5">.Get</text>
</g>

<g id="imageweb-gottext">
<path class="ev" d="M1899.4,989q0,-6 6,-6H2369.4V1034H1938.7V1244.3H2369.4V1253.7H1905.4q-6,0 -6,-6Z"/>
<g transform="translate(1899.4,983)">
<text x="9" y="18.4">when</text>
<rect class="fe" x="57.2" y="5.5" width="99.4" height="16"/>
<text class="k" x="62.2" y="18">ImageWeb</text>
<text x="163" y="18.4">.Got Text</text>
<rect class="fr" x="18.9" y="30" width="27" height="16"/><text class="k" x="22.9" y="42.5">url</text>
<rect class="fr" x="61.3" y="30" width="116" height="16"/><text class="k" x="66.3" y="42.5">response Code</text>
<rect class="fr" x="192.6" y="30" width="109.7" height="16"/><text class="k" x="197.6" y="42.5">response Type</text>
<rect class="fr" x="316.6" y="30" width="132.8" height="16"/><text class="k" x="321.6" y="42.5">response Content</text>
<text x="9" y="68">do</text>
</g>
<rect class="va" x="1938.7" y="1034" width="189" height="51.5"/>
<text x="1948" y="1051">set</text>
<rect class="fv" x="1974.5" y="1039" width="116" height="16"/>
<text class="k" x="1979.5" y="1051.5">global image</text>
<text x="2095.5" y="1051">to</text>
<g transform="translate(2127.7,1034)">
<rect class="tx" width="106.3" height="51.5"/>
<rect class="ft" x="4.1" y="5" width="54.6" height="16"/>
<text class="k" x="9.1" y="17.8">split</text>
<text x="63.8" y="16.8">text</text>
<text class="e" x="86.8" y="43.8">at</text>
<rect class="va" x="106.3" y="1.3" width="191.5" height="24.5"/>
<text x="115.9" y="18">get</text>
<rect class="fv" x="143" y="5.5" width="148" height="16"/>
<text class="k" x="148" y="18">response Content</text>
<rect class="tx" x="106.3" y="26.6" width="55.6" height="24.9"/>
<text class="q" x="114.3" y="38.3">“</text>
<rect class="ft" x="126.7" y="31" width="13.6" height="16"/>
<text class="k" x="129.5" y="43.5">"</text>
<text class="q" x="143.5" y="38.3">”</text>
</g>
<rect class="sg" x="1938.7" y="1086.3" width="251.8" height="128.5"/>
<text x="1948" y="1104.3">set</text>
<rect class="fs" x="1978.6" y="1091" width="99.4" height="16"/>
<text class="k" x="1983.6" y="1103.5">NameWeb</text>
<text x="2083" y="1104">.</text>
<rect class="fs" x="2093.5" y="1091" width="56.2" height="16"/>
<text class="k" x="2098.5" y="1103.5">URL</text>
<text x="2159.4" y="1104.3">to</text>
<g transform="translate(2190.5,1086.3)">
<rect class="tx" width="81" height="128.5"/>
<use href="#g" x="9" y="5" width="15" height="15"/>
<text x="36" y="17.5">join</text>
<rect class="tx" x="80.2" width="330.3" height="26"/>
<text class="q" x="88" y="12">“</text>
<rect class="ft" x="100.5" y="5" width="288.7" height="16"/>
<text class="k" x="105.5" y="17.5">https://docs.google.com/spreadsheets/d/</text>
<text class="q" x="395" y="12">”</text>
<rect class="va" x="80.2" y="26.6" width="217.1" height="25"/>
<text x="90" y="43">get</text>
<rect class="fv" x="117" y="31" width="174" height="16"/>
<text class="k" x="122" y="43.5">global spreadsheetID</text>
<rect class="tx" x="80.2" y="51.7" width="210.3" height="26"/>
<text class="q" x="88" y="64">“</text>
<rect class="ft" x="100.5" y="56.5" width="168" height="16"/>
<text class="k" x="105.5" y="69">/gviz/tq?tqx=out:csv&amp;tq=</text>
<text class="q" x="275" y="64">”</text>
<rect class="pu" x="80.2" y="78.4" width="285" height="50.1"/>
<text x="90" y="95.7">call</text>
<rect class="fp" x="123" y="83.7" width="132" height="16"/>
<text class="k" x="128" y="96.2">CheckRegNum</text>
<text x="260.5" y="95.7">.URI Encode</text>
<text class="e" x="346.8" y="120.4">text</text>
<rect class="tx" x="365.2" y="103.7" width="122.3" height="24.8"/>
<text class="q" x="373" y="115.5">“</text>
<rect class="ft" x="385.5" y="108.2" width="82" height="16"/>
<text class="k" x="390.5" y="120.7">SELECT A</text>
<text class="q" x="472" y="115.5">”</text>
</g>
<rect class="pu" x="1938.7" y="1215.7" width="185.3" height="25.3"/>
<text x="1948" y="1233">call</text>
<rect class="fp" x="1981" y="1220.5" width="99" height="16"/>
<text class="k" x="1986" y="1233">NameWeb</text>
<text x="2085.8" y="1233">.Get</text>
</g>

<g id="nameweb-gottext">
<path class="ev" d="M1880.3,1286.7q0,-6 6,-6H2349.6V1331.3H1919V1540.9H2349.6V1550.7H1886.3q-6,0 -6,-6Z"/>
<g transform="translate(1880.3,1280.7)">
<text x="9.4" y="17">when</text>
<rect class="fe" x="55.7" y="5" width="99.5" height="16"/>
<text class="k" x="60.7" y="17.5">NameWeb</text>
<text x="161.7" y="17">.Got Text</text>
<rect class="fr" x="18.2" y="30" width="25.8" height="16"/><text class="k" x="21.7" y="42.5">url</text>
<rect class="fr" x="59.5" y="30" width="116.2" height="16"/><text class="k" x="64.5" y="42.5">response Code</text>
<rect class="fr" x="190.4" y="30" width="111.3" height="16"/><text class="k" x="195.4" y="42.5">response Type</text>
<rect class="fr" x="315.7" y="30" width="133" height="16"/><text class="k" x="320.7" y="42.5">response Content</text>
<text x="9.4" y="66.3">do</text>
</g>
<rect class="va" x="1919" y="1331.3" width="185.3" height="51.4"/>
<text x="1928" y="1348">set</text>
<rect class="fv" x="1954.3" y="1336" width="111.2" height="16"/>
<text class="k" x="1959.3" y="1348.5">global name</text>
<text x="2071.8" y="1348">to</text>
<g transform="translate(2104.3,1331.3)">
<rect class="tx" width="105.7" height="51.4"/>
<rect class="ft" x="4.7" y="4.7" width="54.3" height="16"/>
<text class="k" x="9.7" y="17.2">split</text>
<text x="64.2" y="16.7">text</text>
<text class="e" x="87.5" y="42.7">at</text>
<rect class="va" x="105.7" y="0" width="192.8" height="24.9"/>
<text x="114.7" y="17.2">get</text>
<rect class="fv" x="142.3" y="4.7" width="149.4" height="16"/>
<text class="k" x="147.3" y="17.2">response Content</text>
<rect class="tx" x="105.7" y="26.5" width="55.7" height="24.9"/>
<text class="q" x="113.7" y="38">“</text>
<rect class="ft" x="125.2" y="30.7" width="15.5" height="16"/>
<text class="k" x="128.8" y="43.2">"</text>
<text class="q" x="144.2" y="38">”</text>
</g>
<rect class="sg" x="1919" y="1383.5" width="250" height="127.7"/>
<text x="1928" y="1400.5">set</text>
<rect class="fs" x="1959" y="1388.5" width="98.3" height="16"/>
<text class="k" x="1964" y="1401">ClassWeb</text>
<text x="2061" y="1401">.</text>
<rect class="fs" x="2070.7" y="1388.5" width="58" height="16"/>
<text class="k" x="2075.7" y="1401">URL</text>
<text x="2136.4" y="1400.5">to</text>
<g transform="translate(2169,1383.5)">
<rect class="tx" width="81" height="127.7"/>
<use href="#g" x="9.8" y="5.5" width="15" height="15"/>
<text x="36" y="17">join</text>
<rect class="tx" x="81" width="331.3" height="25.7"/>
<text class="q" x="89" y="12">“</text>
<rect class="ft" x="101" y="4.5" width="289.6" height="16"/>
<text class="k" x="106" y="17">https://docs.google.com/spreadsheets/d/</text>
<text class="q" x="396" y="12">”</text>
<rect class="va" x="81" y="26.9" width="216.5" height="24.6"/>
<text x="90.5" y="43.5">get</text>
<rect class="fv" x="117.4" y="31" width="174.6" height="16"/>
<text class="k" x="122.4" y="43.5">global spreadsheetID</text>
<rect class="tx" x="81" y="52.5" width="210.8" height="24.6"/>
<text class="q" x="89" y="64">“</text>
<rect class="ft" x="101" y="57" width="169" height="16"/>
<text class="k" x="106" y="69.5">/gviz/tq?tqx=out:csv&amp;tq=</text>
<text class="q" x="275" y="64">”</text>
<rect class="pu" x="81" y="78.3" width="284.8" height="49.4"/>
<text x="90.5" y="95.5">call</text>
<rect class="fp" x="123.7" y="83" width="131.9" height="16"/>
<text class="k" x="128.7" y="95.5">CheckRegNum</text>
<text x="261" y="95.5">.URI Encode</text>
<text class="e" x="347.7" y="119.8">text</text>
<rect class="tx" x="365.8" y="103.2" width="124.2" height="24.5"/>
<text class="q" x="374" y="115">“</text>
<rect class="ft" x="386.4" y="107.5" width="80.2" height="16"/>
<text class="k" x="391.4" y="120">SELECT B</text>
<text class="q" x="471" y="115">”</text>
</g>
<rect class="pu" x="1919" y="1512.4" width="183.8" height="25.3"/>
<text x="1928" y="1530">call</text>
<rect class="fp" x="1960.5" y="1517" width="96.8" height="16"/>
<text class="k" x="1965.5" y="1529.5">ClassWeb</text>
<text x="2064" y="1530">.Get</text>
</g>

<g id="classweb-gottext">
<path class="ev" d="M1880.3,1566.2q0,-6 6,-6H2349.6V1611.2H1919V2182.7H2349.6V2193.3H1886.3q-6,0 -6,-6Z"/>
<g transform="translate(1880.3,1560.2)">
<text x="9.4" y="15.5">when</text>
<rect class="fe" x="55.7" y="4.1" width="98.5" height="16"/>
<text class="k" x="60.7" y="16.6">ClassWeb</text>
<text x="160.4" y="15.5">.Got Text</text>
<rect class="fr" x="18.2" y="28.6" width="25.8" height="16"/><text class="k" x="21.7" y="41.1">url</text>
<rect class="fr" x="59.5" y="28.6" width="116.2" height="16"/><text class="k" x="64.5" y="41.1">response Code</text>
<rect class="fr" x="190.4" y="28.6" width="111.3" height="16"/><text class="k" x="195.4" y="41.1">response Type</text>
<rect class="fr" x="315.7" y="28.6" width="133" height="16"/><text class="k" x="320.7" y="41.1">response Content</text>
<text x="9.4" y="66.5">do</text>
</g>
<rect class="va" x="1919" y="1611.2" width="182.2" height="51"/>
<text x="1928" y="1628">set</text>
<rect class="fv" x="1954.3" y="1616" width="109.7" height="16"/>
<text class="k" x="1959.3" y="1628.5">global class</text>
<text x="2069" y="1628">to</text>
<g transform="translate(2101.2,1611.2)">
<rect class="tx" width="106.6" height="51"/>
<rect class="ft" x="5.2" y="4.8" width="54.3" height="16"/>
<text class="k" x="10.2" y="17.3">split</text>
<text x="64.8" y="16.8">text</text>
<text class="e" x="87.8" y="42.8">at</text>
<rect class="va" x="106.6" y="0" width="191.2" height="25.3"/>
<text x="115.8" y="17.3">get</text>
<rect class="fv" x="142.8" y="4.8" width="149.5" height="16"/>
<text class="k" x="147.8" y="17.3">response Content</text>
<rect class="tx" x="106.6" y="26.6" width="55.2" height="24.4"/>
<text class="q" x="114.6" y="38">“</text>
<rect class="ft" x="125.8" y="30.6" width="15.5" height="16"/>
<text class="k" x="129.4" y="43.1">"</text>
<text class="q" x="144.8" y="38">”</text>
</g>
<rect class="pu" x="1919" y="1663.5" width="332.3" height="49.8"/>
<text x="1928" y="1681">call</text>
<rect class="fp" x="1961.6" y="1668.4" width="159.4" height="16"/>
<text class="k" x="1966.6" y="1681">ColinTreeListView1</text>
<text x="2126" y="1681">.Initialize_Scroll</text>
<text class="e" x="2224.4" y="1705">verticalScrollArrangement</text>
<rect class="lg" x="2251.3" y="1688.8" width="178.7" height="24.5"/>
<rect class="fl" x="2256.4" y="1693" width="167" height="16"/>
<text class="k" x="2261.4" y="1705.5">Students_List_Scroll</text>
<path class="va" d="M1919,1714H2169V1738.6H1951.2V2066.3H2169V2076.5H1919Z"/>
<use href="#g" x="1928.5" y="1719.4" width="15" height="15"/>
<text x="1954.3" y="1731">initialize local</text>
<rect class="fr" x="2051" y="1717.5" width="81.8" height="17"/>
<text class="k" x="2056" y="1730.5">studentlist</text>
<text x="2137.5" y="1731">to</text>
<rect class="li" x="2169" y="1714" width="158.8" height="24.6"/>
<use href="#g" x="2179.4" y="1719" width="15" height="15"/>
<text x="2206.3" y="1731">create empty list</text>
<text x="1928" y="1756">in</text>
<path class="ct" d="M1951.2,1739.8H2140V1818H1990V2001H2140V2013.3H1951.2Z"/>
<text x="1961.6" y="1756">for each</text>
<rect class="fr" x="2021.6" y="1744" width="63" height="16"/>
<text class="k" x="2026.6" y="1756.5">number</text>
<text x="2088.8" y="1756">from</text>
<rect class="ma" x="2140" y="1740.6" width="30" height="24.4"/>
<rect class="fm" x="2145.7" y="1744.5" width="17.6" height="16"/>
<text class="k" x="2150.5" y="1757">1</text>
<text class="e" x="2120" y="1782">to</text>
<rect class="li" x="2140" y="1766.3" width="142.3" height="25.3"/>
<text x="2151" y="1783">length of list</text>
<text x="2243.5" y="1783">list</text>
<rect class="va" x="2282.3" y="1766.3" width="158.3" height="25.3"/>
<text x="2291.6" y="1783">get</text>
<rect class="fv" x="2319" y="1770.5" width="115" height="16"/>
<text class="k" x="2324" y="1783">global image</text>
<text class="e" x="2121" y="1808">by</text>
<rect class="ma" x="2140" y="1792.9" width="30" height="24.4"/>
<rect class="fm" x="2145.7" y="1797" width="17.6" height="16"/>
<text class="k" x="2150.5" y="1809.5">1</text>
<text x="1961.6" y="1834">do</text>
<rect class="li" x="1990" y="1818" width="199" height="181"/>
<use href="#g" x="2000.4" y="1823.5" width="15" height="15"/>
<text x="2026.7" y="1835">add items to list</text>
<text x="2149.4" y="1835">list</text>
<text class="e" x="2168.5" y="1860">item</text>
<rect class="va" x="2189" y="1818" width="138.8" height="25.9"/>
<text x="2198.5" y="1835">get</text>
<rect class="fv" x="2225.4" y="1822.5" width="96.2" height="16"/>
<text class="k" x="2230.4" y="1835">studentlist</text>
<rect class="li" x="2189" y="1843.9" width="131" height="155.1"/>
<use href="#g" x="2199" y="1850" width="15" height="15"/>
<text x="2226" y="1861">make a list</text>
<g transform="translate(2320,1843.9)">
<rect class="li" width="155.3" height="52" stroke="#0A8BD0"/>
<text x="10.4" y="16.6">select list item</text>
<text x="111" y="16.6">list</text>
<text class="e" x="133.5" y="43">index</text>
<rect class="va" x="155.3" y="0.8" width="157.7" height="24.5"/>
<text x="164.6" y="17.6">get</text>
<rect class="fv" x="191.5" y="5" width="116.5" height="16"/>
<text class="k" x="196.5" y="17.5">global image</text>
<rect class="va" x="155.3" y="26.5" width="121.5" height="25.3"/>
<text x="164.6" y="43.6">get</text>
<rect class="fv" x="191.5" y="31" width="79.1" height="16"/>
<text class="k" x="196.5" y="43.5">number</text>
</g>
<g transform="translate(2320,1897)">
<rect class="li" width="155.3" height="51" stroke="#0A8BD0"/>
<text x="10.4" y="16.6">select list item</text>
<text x="111" y="16.6">list</text>
<text class="e" x="133.5" y="42.5">index</text>
<rect class="va" x="155.3" y="0" width="154.1" height="24.4"/>
<text x="164.6" y="17">get</text>
<rect class="fv" x="191.5" y="4.3" width="112.2" height="16"/>
<text class="k" x="196.5" y="16.8">global name</text>
<rect class="va" x="155.3" y="25.7" width="121.5" height="25.3"/>
<text x="164.6" y="42.8">get</text>
<rect class="fv" x="191.5" y="30" width="79.1" height="16"/>
<text class="k" x="196.5" y="42.5">number</text>
</g>
<g transform="translate(2320,1949)">
<rect class="li" width="155.3" height="50" stroke="#0A8BD0"/>
<text x="10.4" y="16.6">select list item</text>
<text x="111" y="16.6">list</text>
<text class="e" x="133.5" y="42">index</text>
<rect class="va" x="155.3" y="0" width="152.7" height="24.7"/>
<text x="164.6" y="17">get</text>
<rect class="fv" x="191.5" y="4.5" width="111" height="16"/>
<text class="k" x="196.5" y="17">global class</text>
<rect class="va" x="155.3" y="25.5" width="121.5" height="24.5"/>
<text x="164.6" y="42.3">get</text>
<rect class="fv" x="191.5" y="29.8" width="79.1" height="16"/>
<text class="k" x="196.5" y="42.3">number</text>
</g>
<rect class="pu" x="1951.2" y="2013.3" width="252.5" height="49.7"/>
<text x="1962" y="2030.5">call</text>
<rect class="fp" x="1994" y="2018.5" width="159.5" height="16"/>
<text class="k" x="1999" y="2031">ColinTreeListView1</text>
<text x="2159.7" y="2030.5">.Set</text>
<text class="e" x="2184" y="2055">list</text>
<rect class="va" x="2203.7" y="2037.8" width="140.7" height="25.2"/>
<text x="2213" y="2055">get</text>
<rect class="fv" x="2241" y="2042" width="96" height="16"/>
<text class="k" x="2246" y="2054.5">studentlist</text>
<rect class="sg" x="1919" y="2077.3" width="314.7" height="25.7"/>
<text x="1928" y="2094.5">set</text>
<rect class="fs" x="1959" y="2082" width="147.4" height="16"/>
<text class="k" x="1964" y="2094.5">Tab_Arrangement</text>
<text x="2110" y="2094.5">.</text>
<rect class="fs" x="2121" y="2082" width="72.3" height="16"/>
<text class="k" x="2126" y="2094.5">Visible</text>
<text x="2201" y="2094.5">to</text>
<rect class="lo" x="2233.7" y="2077.3" width="69.8" height="25.7"/>
<rect class="fo" x="2238.9" y="2082" width="59.4" height="16"/>
<text class="k" x="2243.9" y="2094.5">false</text>
<rect class="sg" x="1919" y="2104" width="377.8" height="24.8"/>
<text x="1928" y="2121">set</text>
<rect class="fs" x="1959" y="2108.5" width="210" height="16"/>
<text class="k" x="1964" y="2121">Add_Student_Arrangement</text>
<text x="2173" y="2121">.</text>
<rect class="fs" x="2183" y="2108.5" width="72.4" height="16"/>
<text class="k" x="2188" y="2121">Visible</text>
<text x="2264" y="2121">to</text>
<rect class="lo" x="2296.8" y="2104" width="69.8" height="24.8"/>
<rect class="fo" x="2302" y="2108.5" width="58.4" height="16"/>
<text class="k" x="2307" y="2121">false</text>
<rect class="sg" x="1919" y="2129.6" width="385.6" height="25.4"/>
<text x="1928" y="2147">set</text>
<rect class="fs" x="1959" y="2134" width="217.8" height="16"/>
<text class="k" x="1964" y="2146.5">Students_List_Arrangement</text>
<text x="2180" y="2146.5">.</text>
<rect class="fs" x="2190.7" y="2134" width="72.3" height="16"/>
<text class="k" x="2195.7" y="2146.5">Visible</text>
<text x="2271" y="2147">to</text>
<rect class="lo" x="2304.6" y="2129.6" width="62" height="25.4"/>
<rect class="fo" x="2309.7" y="2134" width="50.7" height="16"/>
<text class="k" x="2314.7" y="2146.5">true</text>
<rect class="pu" x="1919" y="2156" width="336.4" height="24.6"/>
<text x="1928" y="2173">call</text>
<rect class="fp" x="1961.6" y="2160.5" width="82.7" height="16"/>
<text class="k" x="1966.6" y="2173">Notifier1</text>
<text x="2050" y="2173">.Dismiss Spinning Progress</text>
</g>

<g id="spreadsheet-datastored">
<path class="ev" d="M100.5,1846q0,-6 6,-6H453V1890.7H137.4V2098.3H453V2108.3H106.5q-6,0 -6,-6Z"/>
<text x="109" y="1856">when</text>
<rect class="fe" x="156" y="1845" width="199.3" height="16"/>
<text class="k" x="161" y="1857.5">Spreadsheet_Extension1</text>
<text x="361.6" y="1856">.DataStored</text>
<rect class="fr" x="118.4" y="1869.3" width="76.9" height="16.7"/>
<text class="k" x="123.4" y="1882">response</text>
<text x="109" y="1906">do</text>
<rect class="ct" x="137.4" y="1890.7" width="52.6" height="205.3"/>
<rect class="ct" x="190" y="1890.7" width="29.5" height="37.6"/>
<rect class="ct" x="137.4" y="2083" width="82" height="13"/>
<use href="#g" x="148" y="1896" width="15" height="15"/>
<text x="172" y="1908">if</text>
<text x="146" y="1943">then</text>
<rect class="tx" x="219.5" y="1891" width="386.3" height="36.3"/>
<text x="229" y="1914">compare texts</text>
<rect class="va" x="342.6" y="1897.3" width="134.8" height="25.4"/>
<text x="351" y="1914.5">get</text>
<rect class="fv" x="379.5" y="1901.5" width="89.5" height="16"/>
<text class="k" x="384.5" y="1914">response</text>
<rect class="ft" x="481.6" y="1902" width="38" height="15"/>
<text class="k" x="490" y="1914">=</text>
<rect class="lo" x="532" y="1896.7" width="66.4" height="26.6"/>
<rect class="fo" x="540.5" y="1901.5" width="51.5" height="16"/>
<text class="k" x="545.5" y="1914">true</text>
<rect class="sg" x="190" y="1928.3" width="334.7" height="25.7"/>
<text x="198.4" y="1945.5">set</text>
<rect class="fs" x="230" y="1933" width="186.3" height="16"/>
<text class="k" x="235" y="1945.5">students_name_textbox</text>
<text x="420" y="1945.5">.</text>
<rect class="fs" x="432" y="1933" width="52.7" height="16"/>
<text class="k" x="437" y="1945.5">Text</text>
<text x="493" y="1945.5">to</text>
<rect class="tx" x="524.7" y="1928.3" width="54.8" height="25.7"/>
<text class="q" x="533" y="1940">“</text>
<rect class="ft" x="545.8" y="1933" width="15.8" height="16"/>
<text class="q" x="566" y="1940">”</text>
<rect class="sg" x="190" y="1954" width="313.7" height="26"/>
<text x="198.4" y="1971.5">set</text>
<rect class="fs" x="230" y="1958.5" width="128.4" height="16"/>
<text class="k" x="235" y="1971">Class_Spinner</text>
<text x="362" y="1971">.</text>
<rect class="fs" x="374" y="1958.5" width="89.7" height="16"/>
<text class="k" x="379" y="1971">Selection</text>
<text x="471" y="1971.5">to</text>
<rect class="tx" x="503.7" y="1954" width="138.9" height="26"/>
<text class="q" x="512" y="1966">“</text>
<rect class="ft" x="524.7" y="1958.5" width="96.9" height="16"/>
<text class="k" x="529.7" y="1971">Select Class</text>
<text class="q" x="626" y="1966">”</text>
<rect class="pu" x="190" y="1980" width="336.8" height="26"/>
<text x="198.4" y="1997.5">call</text>
<rect class="fp" x="232" y="1984.5" width="84.3" height="16"/>
<text class="k" x="237" y="1997">Notifier1</text>
<text x="321.6" y="1997.5">.Dismiss Spinning Progress</text>
<rect class="pu" x="190" y="2006" width="276.8" height="25.7"/>
<text x="198.4" y="2023.5">call</text>
<rect class="fp" x="232" y="2010.5" width="113.8" height="16"/>
<text class="k" x="237" y="2023">Add_Student</text>
<text x="353" y="2023.5">.Hide Keyboard</text>
<rect class="pu" x="190" y="2031.7" width="226.3" height="51"/>
<text x="198.4" y="2049">call</text>
<rect class="fp" x="232" y="2036" width="84.3" height="16"/>
<text class="k" x="237" y="2048.5">Notifier1</text>
<text x="321.6" y="2049">.Show Alert</text>
<text class="e" x="395.3" y="2073.3">notice</text>
<rect class="tx" x="416.3" y="2057.3" width="240" height="25.4"/>
<text class="q" x="424" y="2069">“</text>
<rect class="ft" x="435.3" y="2061.5" width="200" height="16"/>
<text class="k" x="440.3" y="2074">Student added successfully</text>
<text class="q" x="640" y="2069">”</text>
</g>

<g id="add-student-backpressed">
<path class="ev" d="M1141.5,1786q0,-6 6,-6H1424V1802H1179.5V1973.3H1424V1983.3H1147.5q-6,0 -6,-6Z"/>
<text x="1151" y="1796">when</text>
<rect class="fe" x="1198" y="1784" width="102" height="16"/>
<text class="k" x="1203" y="1796.5">Add_Student</text>
<text x="1306" y="1796">.Back Pressed</text>
<text x="1151" y="1821">do</text>
<rect class="ct" x="1179.5" y="1802" width="50.5" height="168"/>
<rect class="ct" x="1230" y="1802" width="28.5" height="41.3"/>
<rect class="ct" x="1230" y="1894" width="28.5" height="41"/>
<rect class="ct" x="1179.5" y="1960" width="79" height="10"/>
<use href="#g" x="1188" y="1811" width="15" height="15"/>
<text x="1215" y="1823">if</text>
<text x="1187" y="1860">then</text>
<text x="1187" y="1914">else if</text>
<text x="1187" y="1950">then</text>
<rect class="lo" x="1258.4" y="1805" width="461" height="36.7"/>
<rect class="lg" x="1272" y="1810" width="322" height="26"/>
<rect class="fl" x="1279.5" y="1815" width="221" height="16"/>
<text class="k" x="1284.5" y="1827.5">Students_List_Arrangement</text>
<text x="1503" y="1827.5">.</text>
<rect class="fl" x="1511" y="1815" width="76" height="16"/>
<text class="k" x="1516" y="1827.5">Visible</text>
<rect class="fo" x="1600" y="1815" width="32" height="15"/>
<text class="k" x="1605" y="1827">=</text>
<rect class="lo" x="1644" y="1809" width="62" height="27"/>
<rect class="fo" x="1649" y="1814" width="52" height="16"/>
<text class="k" x="1654" y="1826.5">true</text>
<rect class="sg" x="1230" y="1843.3" width="386.3" height="25"/>
<text x="1238" y="1861">set</text>
<rect class="fs" x="1266.8" y="1848" width="221" height="16"/>
<text class="k" x="1271.8" y="1860.5">Students_List_Arrangement</text>
<text x="1491" y="1860.5">.</text>
<rect class="fs" x="1500.5" y="1848" width="71.5" height="16"/>
<text class="k" x="1505.5" y="1860.5">Visible</text>
<text x="1582.6" y="1861">to</text>
<rect class="lo" x="1616.3" y="1843.3" width="68.4" height="25"/>
<rect class="fo" x="1621.6" y="1848" width="55.8" height="16"/>
<text class="k" x="1626.6" y="1860.5">false</text>
<rect class="sg" x="1230" y="1869.3" width="315.8" height="24.7"/>
<text x="1238" y="1886.5">set</text>
<rect class="fs" x="1266.8" y="1874" width="151.6" height="16"/>
<text class="k" x="1271.8" y="1886.5">Tab_Arrangement</text>
<text x="1421" y="1886.5">.</text>
<rect class="fs" x="1432" y="1874" width="71.7" height="16"/>
<text class="k" x="1437" y="1886.5">Visible</text>
<text x="1513" y="1886.5">to</text>
<rect class="lo" x="1545.8" y="1869.3" width="60" height="24.7"/>
<rect class="fo" x="1551" y="1874" width="49.5" height="16"/>
<text class="k" x="1556" y="1886.5">true</text>
<rect class="lo" x="1258.4" y="1899" width="452.6" height="35.3"/>
<rect class="lg" x="1274" y="1904" width="310.7" height="26"/>
<rect class="fl" x="1279.5" y="1909" width="210.5" height="16"/>
<text class="k" x="1284.5" y="1921.5">Add_Student_Arrangement</text>
<text x="1494" y="1921.5">.</text>
<rect class="fl" x="1505.8" y="1909" width="73.7" height="16"/>
<text class="k" x="1510.8" y="1921.5">Visible</text>
<rect class="fo" x="1590" y="1909" width="37" height="15"/>
<text class="k" x="1597" y="1921">=</text>
<rect class="lo" x="1637.4" y="1904" width="60" height="26"/>
<rect class="fo" x="1644.7" y="1909" width="47.3" height="16"/>
<text class="k" x="1649.7" y="1921.5">true</text>
<rect class="ct" x="1230" y="1935" width="109.5" height="24.3"/>
<text x="1239.5" y="1952">close screen</text>
</g>

<g id="init-tuition-fee">
<rect class="va" x="840.3" y="2140" width="234" height="25.7" rx="4"/>
<text x="848.5" y="2156.5">initialize global</text>
<rect class="fr" x="956.3" y="2145" width="82" height="16.7"/>
<text class="k" x="961.3" y="2157.5">tuition_fee</text>
<text x="1042" y="2156.5">to</text>
<rect class="ma" x="1074.4" y="2140" width="27.6" height="25.7"/>
<rect class="fm" x="1079.5" y="2144.5" width="16.5" height="16.5"/>
<text class="k" x="1083.5" y="2157">0</text>
</g>

<g id="procedure-tuition-fee">
<path class="pr" d="M840.3,2186q0,-6 6,-6H981V2206H878.5V3030.7H980V3042.3H846.3q-6,0 -6,-6Z"/>
<use href="#g" x="850.5" y="2185" width="15" height="15"/>
<text x="870" y="2198">to</text>
<rect class="fq" x="890" y="2184" width="84" height="16.7"/>
<text class="k" x="895" y="2197">tuition_fee</text>
<text x="848.5" y="2221">do</text>
<rect class="ct" x="878.5" y="2206" width="51.5" height="824"/>
<rect class="ct" x="930" y="2206" width="29" height="59"/>
<rect class="ct" x="930" y="2290.7" width="29" height="51"/>
<rect class="ct" x="930" y="2367.7" width="29" height="50.6"/>
<rect class="ct" x="930" y="2444.3" width="29" height="51.4"/>
<rect class="ct" x="930" y="2521" width="29" height="51.7"/>
<rect class="ct" x="930" y="2598.3" width="29" height="40"/>
<rect class="ct" x="930" y="2664" width="29" height="40.3"/>
<rect class="ct" x="930" y="2730.7" width="29" height="51"/>
<rect class="ct" x="930" y="2807.3" width="29" height="40"/>
<rect class="ct" x="930" y="2873.3" width="29" height="40"/>
<rect class="ct" x="930" y="2940" width="29" height="50"/>
<rect class="ct" x="878.5" y="3018" width="80" height="12"/>
<use href="#g" x="886.5" y="2212" width="15" height="15"/>
<text x="912" y="2224">if</text>
<text x="886.5" y="2282">then</text>
<text x="886.5" y="2311">else if</text>
<text x="886.5" y="2359">then</text>
<text x="886.5" y="2388">else if</text>
<text x="886.5" y="2436">then</text>
<text x="886.5" y="2465">else if</text>
<text x="886.5" y="2513">then</text>
<text x="886.5" y="2541">else if</text>
<text x="886.5" y="2590">then</text>
<text x="886.5" y="2619">else if</text>
<text x="886.5" y="2656">then</text>
<text x="886.5" y="2685">else if</text>
<text x="886.5" y="2722">then</text>
<text x="886.5" y="2751">else if</text>
<text x="886.5" y="2799">then</text>
<text x="886.5" y="2827">else if</text>
<text x="886.5" y="2865">then</text>
<text x="886.5" y="2893">else if</text>
<text x="886.5" y="2931">then</text>
<text x="886.5" y="2960">else if</text>
<text x="886.5" y="3008">then</text>

<rect class="lo" x="958.3" y="2206" width="1468" height="59"/>
<use href="#g" x="968.6" y="2212" width="15" height="15"/>
<rect class="ls" x="1004.5" y="2212.7" width="428" height="36.6"/>
<g transform="translate(1018,2217.3)"><rect class="lg" width="248" height="26"/><rect class="fl" x="7" y="5" width="128" height="16"/><text class="k" x="12" y="17.5">Class_Spinner</text><text x="140" y="17">.</text><rect class="fl" x="151" y="5" width="90" height="16"/><text class="k" x="156" y="17.5">Selection</text><rect class="fo" x="254" y="6" width="34" height="14"/><text class="k" x="260" y="17.5">=</text><rect class="tx" x="300" width="104" height="26"/><text class="q" x="308" y="12">“</text><rect class="ft" x="320" y="5" width="63" height="16"/><text class="k" x="325" y="17.5">Nursery</text><text class="q" x="387" y="12">”</text></g>
<rect class="fo" x="1438.8" y="2216.7" width="38" height="15"/>
<text class="k" x="1446" y="2229">or</text>
<rect class="ls" x="1492.2" y="2212.7" width="922" height="46.6"/>
<use href="#g" x="1499.4" y="2218" width="15" height="15"/>
<rect class="ls" x="1538.4" y="2221" width="400.4" height="34"/>
<g transform="translate(1548.7,2225)"><rect class="lg" width="248" height="26"/><rect class="fl" x="7" y="5" width="128" height="16"/><text class="k" x="12" y="17.5">Class_Spinner</text><text x="140" y="17">.</text><rect class="fl" x="151" y="5" width="90" height="16"/><text class="k" x="156" y="17.5">Selection</text><rect class="fo" x="254" y="6" width="34" height="14"/><text class="k" x="260" y="17.5">=</text><rect class="tx" x="300" width="80" height="26"/><text class="q" x="308" y="12">“</text><rect class="ft" x="320" y="5" width="41" height="16"/><text class="k" x="325" y="17.5">LKG</text><text class="q" x="365" y="12">”</text></g>
<rect class="fo" x="1947" y="2222.7" width="38" height="15"/>
<text class="k" x="1954" y="2235">or</text>
<rect class="ls" x="1997.3" y="2221" width="405" height="34"/>
<g transform="translate(2010.7,2225)"><rect class="lg" width="248" height="26"/><rect class="fl" x="7" y="5" width="128" height="16"/><text class="k" x="12" y="17.5">Class_Spinner</text><text x="140" y="17">.</text><rect class="fl" x="151" y="5" width="90" height="16"/><text class="k" x="156" y="17.5">Selection</text><rect class="fo" x="254" y="6" width="34" height="14"/><text class="k" x="260" y="17.5">=</text><rect class="tx" x="298" width="84" height="26"/><text class="q" x="306" y="12">“</text><rect class="ft" x="318" y="5" width="45" height="16"/><text class="k" x="323" y="17.5">UKG</text><text class="q" x="367" y="12">”</text></g>

<rect class="lo" x="958.3" y="2294" width="875.7" height="47.7"/>
<use href="#g" x="968.6" y="2299.5" width="15" height="15"/>
<rect class="ls" x="1004.5" y="2300.7" width="380" height="36.6"/>
<g transform="translate(1018,2305.7)"><rect class="lg" width="248" height="26"/><rect class="fl" x="7" y="5" width="128" height="16"/><text class="k" x="12" y="17.5">Class_Spinner</text><text x="140" y="17">.</text><rect class="fl" x="151" y="5" width="90" height="16"/><text class="k" x="156" y="17.5">Selection</text><rect class="fo" x="254" y="6" width="34" height="14"/><text class="k" x="260" y="17.5">=</text><rect class="tx" x="297" width="56" height="26"/><text class="q" x="304" y="12">“</text><rect class="ft" x="315" y="5" width="18" height="16"/><text class="k" x="321" y="17.5">I</text><text class="q" x="337" y="12">”</text></g>
<rect class="fo" x="1389.6" y="2305" width="38" height="15"/>
<text class="k" x="1397" y="2317.5">or</text>
<rect class="ls" x="1440.9" y="2300.7" width="380" height="36.6"/>
<g transform="translate(1451,2305.7)"><rect class="lg" width="248" height="26"/><rect class="fl" x="7" y="5" width="128" height="16"/><text class="k" x="12" y="17.5">Class_Spinner</text><text x="140" y="17">.</text><rect class="fl" x="151" y="5" width="90" height="16"/><text class="k" x="156" y="17.5">Selection</text><rect class="fo" x="256" y="6" width="34" height="14"/><text class="k" x="262" y="17.5">=</text><rect class="tx" x="301" width="58" height="26"/><text class="q" x="308" y="12">“</text><rect class="ft" x="318" y="5" width="24" height="16"/><text class="k" x="324" y="17.5">II</text><text class="q" x="345" y="12">”</text></g>

<rect class="lo" x="958.3" y="2371" width="1334.7" height="47.3"/>
<use href="#g" x="968.6" y="2376.5" width="15" height="15"/>
<rect class="ls" x="1004.5" y="2377.7" width="385" height="36.6"/>
<g transform="translate(1018,2382.7)"><rect class="lg" width="248" height="26"/><rect class="fl" x="7" y="5" width="128" height="16"/><text class="k" x="12" y="17.5">Class_Spinner</text><text x="140" y="17">.</text><rect class="fl" x="151" y="5" width="90" height="16"/><text class="k" x="156" y="17.5">Selection</text><rect class="fo" x="254" y="6" width="34" height="14"/><text class="k" x="260" y="17.5">=</text><rect class="tx" x="300" width="63" height="26"/><text class="q" x="307" y="12">“</text><rect class="ft" x="318" y="5" width="26" height="16"/><text class="k" x="324" y="17.5">III</text><text class="q" x="348" y="12">”</text></g>
<rect class="fo" x="1397.8" y="2381.7" width="38" height="15"/>
<text class="k" x="1405" y="2394">or</text>
<rect class="ls" x="1448" y="2377.7" width="388" height="36.6"/>
<g transform="translate(1458.3,2382.7)"><rect class="lg" width="251" height="26"/><rect class="fl" x="8" y="5" width="133" height="16"/><text class="k" x="13" y="17.5">Class_Spinner</text><text x="144" y="17">.</text><rect class="fl" x="155" y="5" width="90" height="16"/><text class="k" x="160" y="17.5">Selection</text><rect class="fo" x="257" y="6" width="34" height="14"/><text class="k" x="263" y="17.5">=</text><rect class="tx" x="304" width="64" height="26"/><text class="q" x="311" y="12">“</text><rect class="ft" x="321" y="5" width="28" height="16"/><text class="k" x="326" y="17.5">IV</text><text class="q" x="353" y="12">”</text></g>
<text x="1844.4" y="2391.7">false</text>
<rect class="ls" x="1895.7" y="2377.7" width="387" height="36.6"/>
<g transform="translate(1910,2382.7)"><rect class="lg" width="250" height="26"/><rect class="fl" x="8" y="5" width="128" height="16"/><text class="k" x="13" y="17.5">Class_Spinner</text><text x="140" y="17">.</text><rect class="fl" x="152" y="5" width="90" height="16"/><text class="k" x="157" y="17.5">Selection</text><rect class="fo" x="255" y="6" width="35" height="14"/><text class="k" x="261" y="17.5">=</text><rect class="tx" x="301" width="60" height="26"/><text class="q" x="308" y="12">“</text><rect class="ft" x="316" y="5" width="28" height="16"/><text class="k" x="322" y="17.5">V</text><text class="q" x="347" y="12">”</text></g>

<rect class="lo" x="958.3" y="2447.7" width="1350" height="48"/>
<use href="#g" x="968.6" y="2453.5" width="15" height="15"/>
<rect class="ls" x="1004.5" y="2454.4" width="387" height="36.6"/>
<g transform="translate(1018,2459.4)"><rect class="lg" width="248" height="26"/><rect class="fl" x="7" y="5" width="128" height="16"/><text class="k" x="12" y="17.5">Class_Spinner</text><text x="140" y="17">.</text><rect class="fl" x="151" y="5" width="90" height="16"/><text class="k" x="156" y="17.5">Selection</text><rect class="fo" x="254" y="6" width="34" height="14"/><text class="k" x="260" y="17.5">=</text><rect class="tx" x="300" width="65" height="26"/><text class="q" x="307" y="12">“</text><rect class="ft" x="318" y="5" width="28" height="16"/><text class="k" x="323" y="17.5">VI</text><text class="q" x="350" y="12">”</text></g>
<rect class="fo" x="1399.8" y="2458.4" width="36" height="15"/>
<text class="k" x="1406" y="2471">or</text>
<rect class="ls" x="1449" y="2454.4" width="392.3" height="36.6"/>
<g transform="translate(1461.4,2459.4)"><rect class="lg" width="248" height="26"/><rect class="fl" x="8" y="5" width="132" height="16"/><text class="k" x="13" y="17.5">Class_Spinner</text><text x="143" y="17">.</text><rect class="fl" x="152" y="5" width="89" height="16"/><text class="k" x="157" y="17.5">Selection</text><rect class="fo" x="254" y="6" width="35" height="14"/><text class="k" x="260" y="17.5">=</text><rect class="tx" x="301" width="69" height="26"/><text class="q" x="308" y="12">“</text><rect class="ft" x="318" y="5" width="31" height="16"/><text class="k" x="323" y="17.5">VII</text><text class="q" x="353" y="12">”</text></g>
<text x="1849.5" y="2468.5">false</text>
<rect class="ls" x="1900.8" y="2454.4" width="397.2" height="36.6"/>
<g transform="translate(1918.3,2459.4)"><rect class="lg" width="246.4" height="26"/><rect class="fl" x="5" y="5" width="128" height="16"/><text class="k" x="10" y="17.5">Class_Spinner</text><text x="137" y="17">.</text><rect class="fl" x="149" y="5" width="90" height="16"/><text class="k" x="154" y="17.5">Selection</text><rect class="fo" x="251.5" y="6" width="35" height="14"/><text class="k" x="257.5" y="17.5">=</text><rect class="tx" x="297.7" width="72" height="26"/><text class="q" x="305" y="12">“</text><rect class="ft" x="318.3" y="5" width="31" height="16"/><text class="k" x="321" y="17.5">VIII</text><text class="q" x="353" y="12">”</text></g>

<rect class="lo" x="958.3" y="2524.3" width="886" height="48.4"/>
<use href="#g" x="968.6" y="2530" width="15" height="15"/>
<rect class="ls" x="1004.5" y="2531" width="380" height="36.6"/>
<g transform="translate(1018,2536)"><rect class="lg" width="248" height="26"/><rect class="fl" x="7" y="5" width="128" height="16"/><text class="k" x="12" y="17.5">Class_Spinner</text><text x="140" y="17">.</text><rect class="fl" x="151" y="5" width="90" height="16"/><text class="k" x="156" y="17.5">Selection</text><rect class="fo" x="254" y="6" width="34" height="14"/><text class="k" x="260" y="17.5">=</text><rect class="tx" x="300" width="63" height="26"/><text class="q" x="307" y="12">“</text><rect class="ft" x="318" y="5" width="26" height="16"/><text class="k" x="323" y="17.5">IX</text><text class="q" x="348" y="12">”</text></g>
<rect class="fo" x="1397.8" y="2535" width="38" height="15"/>
<text class="k" x="1405" y="2547.5">or</text>
<rect class="ls" x="1451" y="2531" width="380" height="36.6"/>
<g transform="translate(1464.5,2536)"><rect class="lg" width="240" height="26"/><rect class="fl" x="5" y="5" width="128" height="16"/><text class="k" x="10" y="17.5">Class_Spinner</text><text x="136" y="17">.</text><rect class="fl" x="145" y="5" width="90" height="16"/><text class="k" x="150" y="17.5">Selection</text><rect class="fo" x="250.5" y="6" width="36" height="14"/><text class="k" x="257" y="17.5">=</text><rect class="tx" x="297.7" width="62" height="26"/><text class="q" x="305" y="12">“</text><rect class="ft" x="315.2" y="5" width="28" height="16"/><text class="k" x="321" y="17.5">X</text><text class="q" x="347" y="12">”</text></g>

<rect class="lo" x="958.6" y="2602.3" width="403.4" height="36"/>
<g transform="translate(976.4,2608.3)"><rect class="lg" width="244" height="25"/><rect class="fl" x="5" y="4.5" width="129" height="16"/><text class="k" x="10" y="17">Class_Spinner</text><text x="137" y="17">.</text><rect class="fl" x="148.6" y="4.5" width="90.7" height="16"/><text class="k" x="153.6" y="17">Selection</text><rect class="fo" x="250" y="5" width="35.6" height="14"/><text class="k" x="256" y="17">=</text><rect class="tx" x="296.5" width="78.5" height="25"/><text class="q" x="304" y="11.5">“</text><rect class="ft" x="317.9" y="4.5" width="40" height="16"/><text class="k" x="323" y="17">XI-A</text><text class="q" x="361" y="11.5">”</text></g>
<rect class="lo" x="958.6" y="2668.3" width="403.4" height="36"/>
<g transform="translate(976.4,2674.3)"><rect class="lg" width="244" height="25"/><rect class="fl" x="5" y="4.5" width="129" height="16"/><text class="k" x="10" y="17">Class_Spinner</text><text x="137" y="17">.</text><rect class="fl" x="148.6" y="4.5" width="90.7" height="16"/><text class="k" x="153.6" y="17">Selection</text><rect class="fo" x="250" y="5" width="35.6" height="14"/><text class="k" x="256" y="17">=</text><rect class="tx" x="296.5" width="78.5" height="25"/><text class="q" x="304" y="11.5">“</text><rect class="ft" x="317.9" y="4.5" width="40" height="16"/><text class="k" x="323" y="17">XI-B</text><text class="q" x="361" y="11.5">”</text></g>

<rect class="lo" x="958.6" y="2734" width="921.4" height="47.7"/>
<use href="#g" x="970.7" y="2739.3" width="15" height="15"/>
<rect class="ls" x="1003.6" y="2742" width="403.4" height="35"/>
<g transform="translate(1021.4,2747)"><rect class="lg" width="244.3" height="25"/><rect class="fl" x="5" y="4" width="128.6" height="16"/><text class="k" x="10" y="16.5">Class_Spinner</text><text x="137" y="16.5">.</text><rect class="fl" x="148" y="4" width="89.3" height="16"/><text class="k" x="153" y="16.5">Selection</text><rect class="fo" x="249.3" y="5" width="34.3" height="14"/><text class="k" x="255" y="16.5">=</text><rect class="tx" x="294.3" width="82.2" height="25"/><text class="q" x="302" y="11.5">“</text><rect class="ft" x="315.6" y="4.5" width="41" height="16"/><text class="k" x="320.6" y="17">XI-C</text><text class="q" x="360" y="11.5">”</text></g>
<rect class="fo" x="1414.3" y="2743.3" width="39.3" height="16.7"/>
<text class="k" x="1422" y="2756.5">or</text>
<rect class="ls" x="1464.3" y="2742" width="405" height="35"/>
<g transform="translate(1482,2747)"><rect class="lg" width="244.4" height="25"/><rect class="fl" x="5" y="4" width="128.7" height="16"/><text class="k" x="10" y="16.5">Class_Spinner</text><text x="137" y="16.5">.</text><rect class="fl" x="148" y="4" width="91.4" height="16"/><text class="k" x="153" y="16.5">Selection</text><rect class="fo" x="250" y="5" width="35" height="14"/><text class="k" x="256" y="16.5">=</text><rect class="tx" x="296.6" width="81.4" height="25"/><text class="q" x="304" y="11.5">“</text><rect class="ft" x="315.9" y="4.5" width="41" height="16"/><text class="k" x="320.9" y="17">XI-D</text><text class="q" x="360" y="11.5">”</text></g>

<rect class="lo" x="958.6" y="2810.7" width="405.4" height="36.6"/>
<g transform="translate(976.4,2816.7)"><rect class="lg" width="244" height="25"/><rect class="fl" x="5" y="4.5" width="129" height="16"/><text class="k" x="10" y="17">Class_Spinner</text><text x="137" y="17">.</text><rect class="fl" x="148.6" y="4.5" width="90.7" height="16"/><text class="k" x="153.6" y="17">Selection</text><rect class="fo" x="250" y="5" width="35.6" height="14"/><text class="k" x="256" y="17">=</text><rect class="tx" x="296.5" width="82" height="25"/><text class="q" x="304" y="11.5">“</text><rect class="ft" x="317.9" y="4.5" width="44" height="16"/><text class="k" x="322.5" y="17">XII-A</text><text class="q" x="365" y="11.5">”</text></g>
<rect class="lo" x="958.6" y="2876.7" width="407" height="36.6"/>
<g transform="translate(976.4,2882.7)"><rect class="lg" width="244" height="25"/><rect class="fl" x="5" y="4.5" width="129" height="16"/><text class="k" x="10" y="17">Class_Spinner</text><text x="137" y="17">.</text><rect class="fl" x="148.6" y="4.5" width="90.7" height="16"/><text class="k" x="153.6" y="17">Selection</text><rect class="fo" x="250" y="5" width="35.6" height="14"/><text class="k" x="256" y="17">=</text><rect class="tx" x="296.5" width="84" height="25"/><text class="q" x="304" y="11.5">“</text><rect class="ft" x="317.9" y="4.5" width="44" height="16"/><text class="k" x="322.5" y="17">XII-B</text><text class="q" x="366" y="11.5">”</text></g>

<rect class="lo" x="958.6" y="2942.7" width="921.4" height="47.3"/>
<use href="#g" x="970.7" y="2948" width="15" height="15"/>
<rect class="ls" x="1003.6" y="2950.7" width="403.4" height="35"/>
<g transform="translate(1021.4,2955.7)"><rect class="lg" width="244.3" height="25"/><rect class="fl" x="5" y="4" width="128.6" height="16"/><text class="k" x="10" y="16.5">Class_Spinner</text><text x="137" y="16.5">.</text><rect class="fl" x="148" y="4" width="89.3" height="16"/><text class="k" x="153" y="16.5">Selection</text><rect class="fo" x="249.3" y="5" width="34.3" height="14"/><text class="k" x="255" y="16.5">=</text><rect class="tx" x="294.3" width="82.2" height="25"/><text class="q" x="302" y="11.5">“</text><rect class="ft" x="315.6" y="4.5" width="41" height="16"/><text class="k" x="320.6" y="17">XI-C</text><text class="q" x="360" y="11.5">”</text></g>
<rect class="fo" x="1414.3" y="2952" width="39.3" height="16.7"/>
<text class="k" x="1422" y="2965">or</text>
<rect class="ls" x="1464.3" y="2950.7" width="405" height="35"/>
<g transform="translate(1482,2955.7)"><rect class="lg" width="244.4" height="25"/><rect class="fl" x="5" y="4" width="128.7" height="16"/><text class="k" x="10" y="16.5">Class_Spinner</text><text x="137" y="16.5">.</text><rect class="fl" x="148" y="4" width="91.4" height="16"/><text class="k" x="153" y="16.5">Selection</text><rect class="fo" x="250" y="5" width="35" height="14"/><text class="k" x="256" y="16.5">=</text><rect class="tx" x="296.6" width="81.4" height="25"/><text class="q" x="304" y="11.5">“</text><rect class="ft" x="315.9" y="4.5" width="41" height="16"/><text class="k" x="320.9" y="17">XI-D</text><text class="q" x="360" y="11.5">”</text></g>

<g transform="translate(930,2265)"><rect class="va" width="216" height="25.5"/><text x="8" y="17">set</text><rect class="fv" x="36.5" y="4.5" width="140.5" height="16"/><text class="k" x="41.5" y="17">global tuition_fee</text><text x="184" y="17">to</text><rect class="ma" x="216" width="64" height="25.5"/><rect class="fm" x="223" y="4.5" width="46" height="16"/><text class="k" x="228" y="17">18276</text></g>
<g transform="translate(930,2342.3)"><rect class="va" width="216" height="25.5"/><text x="8" y="17">set</text><rect class="fv" x="36.5" y="4.5" width="140.5" height="16"/><text class="k" x="41.5" y="17">global tuition_fee</text><text x="184" y="17">to</text><rect class="ma" x="216" width="64" height="25.5"/><rect class="fm" x="223" y="4.5" width="46" height="16"/><text class="k" x="228" y="17">21600</text></g>
<g transform="translate(930,2419)"><rect class="va" width="216" height="25.5"/><text x="8" y="17">set</text><rect class="fv" x="36.5" y="4.5" width="140.5" height="16"/><text class="k" x="41.5" y="17">global tuition_fee</text><text x="184" y="17">to</text><rect class="ma" x="216" width="64" height="25.5"/><rect class="fm" x="223" y="4.5" width="46" height="16"/><text class="k" x="228" y="17">22884</text></g>
<g transform="translate(930,2496)"><rect class="va" width="216" height="25.5"/><text x="8" y="17">set</text><rect class="fv" x="36.5" y="4.5" width="140.5" height="16"/><text class="k" x="41.5" y="17">global tuition_fee</text><text x="184" y="17">to</text><rect class="ma" x="216" width="64" height="25.5"/><rect class="fm" x="223" y="4.5" width="46" height="16"/><text class="k" x="228" y="17">29040</text></g>
<g transform="translate(930,2573.3)"><rect class="va" width="216" height="25.5"/><text x="8" y="17">set</text><rect class="fv" x="36.5" y="4.5" width="140.5" height="16"/><text class="k" x="41.5" y="17">global tuition_fee</text><text x="184" y="17">to</text><rect class="ma" x="216" width="64" height="25.5"/><rect class="fm" x="223" y="4.5" width="46" height="16"/><text class="k" x="228" y="17">34152</text></g>
<g transform="translate(930,2639)"><rect class="va" width="216" height="25.5"/><text x="8" y="17">set</text><rect class="fv" x="36.5" y="4.5" width="140.5" height="16"/><text class="k" x="41.5" y="17">global tuition_fee</text><text x="184" y="17">to</text><rect class="ma" x="216" width="64" height="25.5"/><rect class="fm" x="223" y="4.5" width="46" height="16"/><text class="k" x="228" y="17">41724</text></g>
<g transform="translate(930,2705)"><rect class="va" width="216" height="25.5"/><text x="8" y="17">set</text><rect class="fv" x="36.5" y="4.5" width="140.5" height="16"/><text class="k" x="41.5" y="17">global tuition_fee</text><text x="184" y="17">to</text><rect class="ma" x="216" width="64" height="25.5"/><rect class="fm" x="223" y="4.5" width="46" height="16"/><text class="k" x="228" y="17">42324</text></g>
<g transform="translate(930,2782.3)"><rect class="va" width="216" height="25.5"/><text x="8" y="17">set</text><rect class="fv" x="36.5" y="4.5" width="140.5" height="16"/><text class="k" x="41.5" y="17">global tuition_fee</text><text x="184" y="17">to</text><rect class="ma" x="216" width="64" height="25.5"/><rect class="fm" x="223" y="4.5" width="46" height="16"/><text class="k" x="228" y="17">39924</text></g>
<g transform="translate(930,2848.3)"><rect class="va" width="216" height="25.5"/><text x="8" y="17">set</text><rect class="fv" x="36.5" y="4.5" width="140.5" height="16"/><text class="k" x="41.5" y="17">global tuition_fee</text><text x="184" y="17">to</text><rect class="ma" x="216" width="64" height="25.5"/><rect class="fm" x="223" y="4.5" width="46" height="16"/><text class="k" x="228" y="17">43620</text></g>
<g transform="translate(930,2914)"><rect class="va" width="216" height="25.5"/><text x="8" y="17">set</text><rect class="fv" x="36.5" y="4.5" width="140.5" height="16"/><text class="k" x="41.5" y="17">global tuition_fee</text><text x="184" y="17">to</text><rect class="ma" x="216" width="64" height="25.5"/><rect class="fm" x="223" y="4.5" width="46" height="16"/><text class="k" x="228" y="17">44220</text></g>
<g transform="translate(930,2991)"><rect class="va" width="216" height="25.5"/><text x="8" y="17">set</text><rect class="fv" x="36.5" y="4.5" width="140.5" height="16"/><text class="k" x="41.5" y="17">global tuition_fee</text><text x="184" y="17">to</text><rect class="ma" x="216" width="64" height="25.5"/><rect class="fm" x="223" y="4.5" width="46" height="16"/><text class="k" x="228" y="17">41220</text></g>
</g>
</svg>
